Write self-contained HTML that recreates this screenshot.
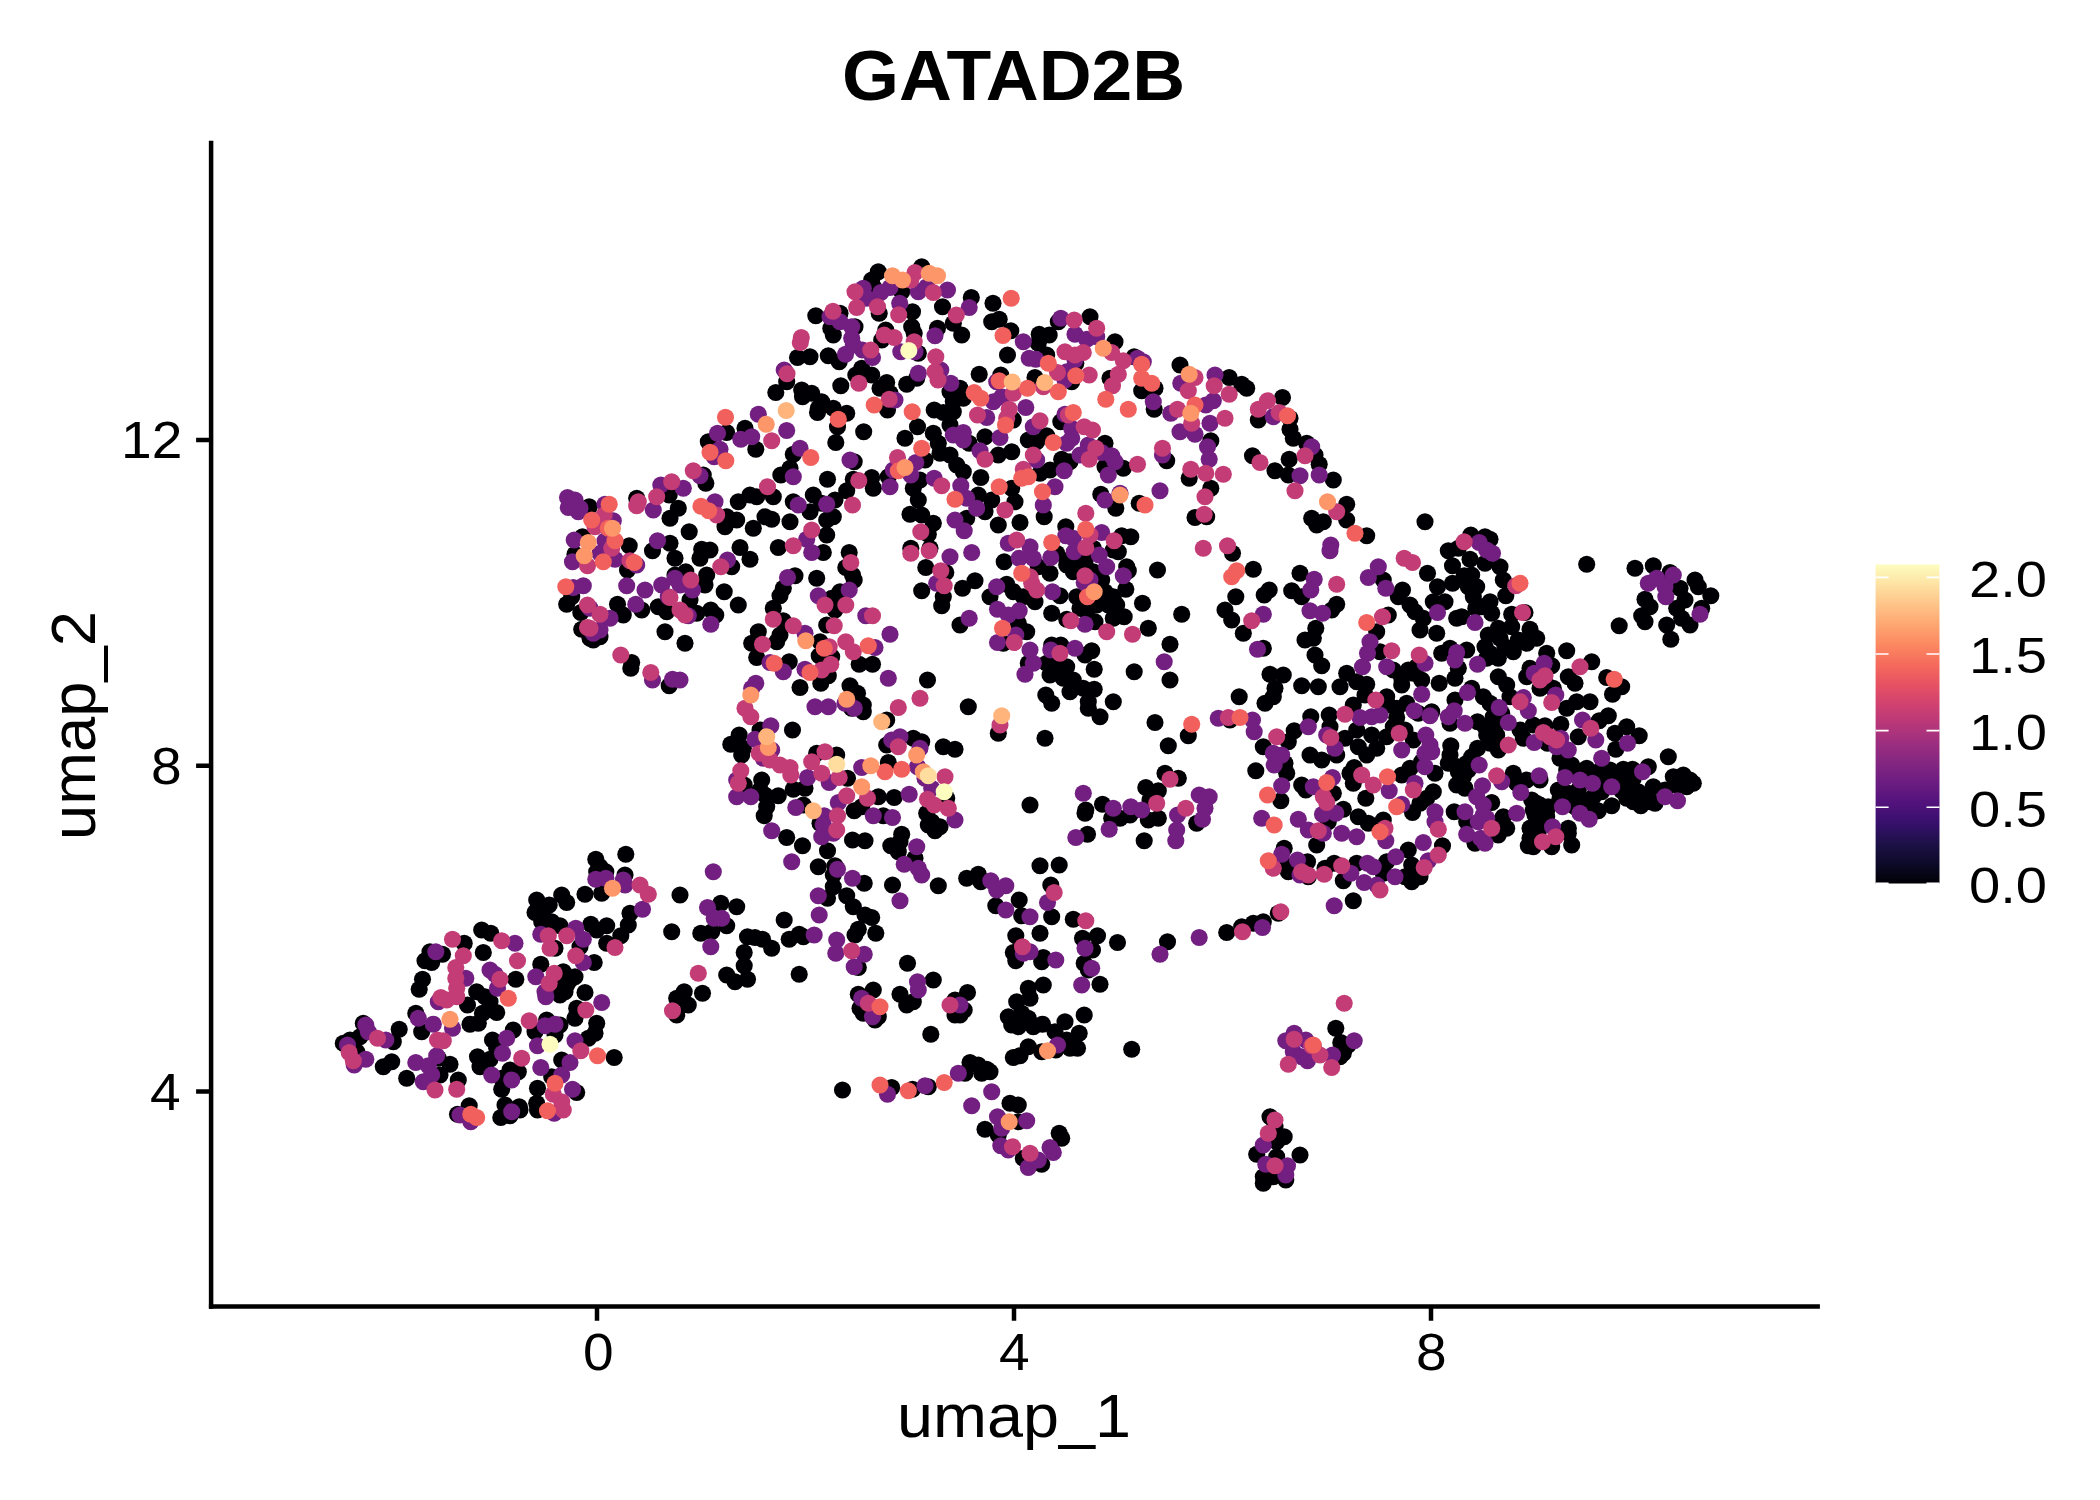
<!DOCTYPE html>
<html><head><meta charset="utf-8"><title>GATAD2B</title>
<style>
html,body{margin:0;padding:0;background:#fff;}
body{width:2100px;height:1500px;position:relative;overflow:hidden;font-family:"Liberation Sans",sans-serif;color:#000;}
.t{position:absolute;white-space:nowrap;line-height:1;transform-origin:0 0;}
svg{position:absolute;left:0;top:0;}
</style></head><body>
<svg width="2100" height="1500" viewBox="0 0 2100 1500">
<defs>
<linearGradient id="mg" x1="0" y1="1" x2="0" y2="0">
<stop offset="0" stop-color="#000004"/><stop offset="0.0625" stop-color="#0d0a29"/><stop offset="0.125" stop-color="#1d1147"/>
<stop offset="0.1875" stop-color="#36106b"/><stop offset="0.25" stop-color="#51127c"/><stop offset="0.3125" stop-color="#6a1c81"/>
<stop offset="0.375" stop-color="#822681"/><stop offset="0.4375" stop-color="#9c2e7f"/><stop offset="0.5" stop-color="#b73779"/>
<stop offset="0.5625" stop-color="#d1426f"/><stop offset="0.625" stop-color="#e75263"/><stop offset="0.6875" stop-color="#f56b5c"/>
<stop offset="0.75" stop-color="#fc8961"/><stop offset="0.8125" stop-color="#fea772"/><stop offset="0.875" stop-color="#fec488"/>
<stop offset="0.9375" stop-color="#fde2a3"/><stop offset="1" stop-color="#fcfdbf"/>
</linearGradient>
</defs>
<g fill="#000004">
<circle cx="921.7" cy="266.7" r="8.55"/><circle cx="878.3" cy="271.7" r="8.55"/><circle cx="871.7" cy="280.0" r="8.55"/><circle cx="873.3" cy="286.7" r="8.55"/><circle cx="901.7" cy="291.7" r="8.55"/><circle cx="971.3" cy="297.5" r="8.55"/><circle cx="993.0" cy="303.3" r="8.55"/><circle cx="879.2" cy="313.3" r="8.55"/><circle cx="912.5" cy="311.7" r="8.55"/><circle cx="942.5" cy="306.7" r="8.55"/><circle cx="815.8" cy="315.8" r="8.55"/><circle cx="840.0" cy="313.3" r="8.55"/><circle cx="855.0" cy="326.7" r="8.55"/><circle cx="830.8" cy="328.3" r="8.55"/><circle cx="833.3" cy="335.0" r="8.55"/><circle cx="911.7" cy="326.7" r="8.55"/><circle cx="914.2" cy="333.3" r="8.55"/><circle cx="885.8" cy="330.0" r="8.55"/><circle cx="881.7" cy="340.0" r="8.55"/><circle cx="937.5" cy="328.3" r="8.55"/><circle cx="953.3" cy="323.3" r="8.55"/><circle cx="961.7" cy="335.0" r="8.55"/><circle cx="991.7" cy="321.7" r="8.55"/><circle cx="999.2" cy="319.2" r="8.55"/><circle cx="1010.8" cy="330.8" r="8.55"/><circle cx="918.3" cy="353.3" r="8.55"/><circle cx="828.3" cy="355.8" r="8.55"/><circle cx="839.2" cy="361.7" r="8.55"/><circle cx="797.5" cy="357.5" r="8.55"/><circle cx="810.0" cy="356.7" r="8.55"/><circle cx="1007.5" cy="355.0" r="8.55"/><circle cx="786.7" cy="381.7" r="8.55"/><circle cx="861.7" cy="368.3" r="8.55"/><circle cx="855.8" cy="375.0" r="8.55"/><circle cx="871.7" cy="375.0" r="8.55"/><circle cx="840.8" cy="385.8" r="8.55"/><circle cx="886.7" cy="382.5" r="8.55"/><circle cx="880.0" cy="388.3" r="8.55"/><circle cx="916.7" cy="378.3" r="8.55"/><circle cx="906.7" cy="384.2" r="8.55"/><circle cx="979.2" cy="374.2" r="8.55"/><circle cx="1000.8" cy="375.0" r="8.55"/><circle cx="775.8" cy="392.5" r="8.55"/><circle cx="801.7" cy="390.0" r="8.55"/><circle cx="811.7" cy="393.3" r="8.55"/><circle cx="802.5" cy="396.7" r="8.55"/><circle cx="821.7" cy="401.7" r="8.55"/><circle cx="818.3" cy="408.3" r="8.55"/><circle cx="950.0" cy="391.7" r="8.55"/><circle cx="960.0" cy="388.3" r="8.55"/><circle cx="963.3" cy="398.3" r="8.55"/><circle cx="953.3" cy="401.7" r="8.55"/><circle cx="890.0" cy="393.3" r="8.55"/><circle cx="887.5" cy="410.0" r="8.55"/><circle cx="934.2" cy="410.0" r="8.55"/><circle cx="943.3" cy="412.5" r="8.55"/><circle cx="953.3" cy="411.7" r="8.55"/><circle cx="1013.3" cy="420.0" r="8.55"/><circle cx="846.7" cy="413.3" r="8.55"/><circle cx="833.3" cy="408.3" r="8.55"/><circle cx="817.5" cy="412.5" r="8.55"/><circle cx="837.5" cy="426.7" r="8.55"/><circle cx="745.0" cy="428.3" r="8.55"/><circle cx="726.7" cy="432.5" r="8.55"/><circle cx="708.3" cy="441.7" r="8.55"/><circle cx="755.8" cy="449.2" r="8.55"/><circle cx="863.7" cy="431.7" r="8.55"/><circle cx="835.8" cy="442.5" r="8.55"/><circle cx="917.5" cy="426.7" r="8.55"/><circle cx="933.3" cy="433.3" r="8.55"/><circle cx="905.0" cy="438.3" r="8.55"/><circle cx="950.0" cy="425.0" r="8.55"/><circle cx="969.2" cy="443.3" r="8.55"/><circle cx="985.0" cy="436.7" r="8.55"/><circle cx="1028.3" cy="440.0" r="8.55"/><circle cx="793.3" cy="454.2" r="8.55"/><circle cx="790.0" cy="468.3" r="8.55"/><circle cx="854.2" cy="461.7" r="8.55"/><circle cx="938.3" cy="443.3" r="8.55"/><circle cx="940.0" cy="453.3" r="8.55"/><circle cx="925.0" cy="460.0" r="8.55"/><circle cx="950.0" cy="455.0" r="8.55"/><circle cx="956.7" cy="465.0" r="8.55"/><circle cx="963.3" cy="471.7" r="8.55"/><circle cx="998.3" cy="455.0" r="8.55"/><circle cx="1011.7" cy="451.7" r="8.55"/><circle cx="703.3" cy="475.0" r="8.55"/><circle cx="705.8" cy="483.3" r="8.55"/><circle cx="780.8" cy="475.0" r="8.55"/><circle cx="827.5" cy="479.2" r="8.55"/><circle cx="871.7" cy="477.5" r="8.55"/><circle cx="853.3" cy="479.2" r="8.55"/><circle cx="846.7" cy="490.8" r="8.55"/><circle cx="873.3" cy="488.3" r="8.55"/><circle cx="888.3" cy="476.7" r="8.55"/><circle cx="920.0" cy="480.0" r="8.55"/><circle cx="913.3" cy="488.3" r="8.55"/><circle cx="980.8" cy="477.5" r="8.55"/><circle cx="1011.7" cy="488.3" r="8.55"/><circle cx="750.0" cy="495.0" r="8.55"/><circle cx="756.7" cy="496.7" r="8.55"/><circle cx="773.3" cy="496.7" r="8.55"/><circle cx="738.3" cy="501.7" r="8.55"/><circle cx="793.3" cy="501.7" r="8.55"/><circle cx="813.3" cy="495.0" r="8.55"/><circle cx="821.7" cy="503.3" r="8.55"/><circle cx="835.0" cy="500.0" r="8.55"/><circle cx="918.3" cy="500.0" r="8.55"/><circle cx="978.3" cy="495.0" r="8.55"/><circle cx="991.7" cy="500.0" r="8.55"/><circle cx="1015.0" cy="501.7" r="8.55"/><circle cx="1090.0" cy="316.7" r="8.55"/><circle cx="1058.3" cy="321.7" r="8.55"/><circle cx="1039.2" cy="334.2" r="8.55"/><circle cx="1049.2" cy="335.0" r="8.55"/><circle cx="1038.3" cy="343.3" r="8.55"/><circle cx="1115.0" cy="341.7" r="8.55"/><circle cx="1046.7" cy="355.0" r="8.55"/><circle cx="1075.8" cy="363.3" r="8.55"/><circle cx="1035.0" cy="377.5" r="8.55"/><circle cx="1071.7" cy="381.7" r="8.55"/><circle cx="1134.2" cy="356.7" r="8.55"/><circle cx="1110.0" cy="378.3" r="8.55"/><circle cx="1141.7" cy="390.8" r="8.55"/><circle cx="1155.0" cy="388.3" r="8.55"/><circle cx="1154.2" cy="409.2" r="8.55"/><circle cx="1180.0" cy="365.0" r="8.55"/><circle cx="1229.2" cy="377.5" r="8.55"/><circle cx="1241.7" cy="384.2" r="8.55"/><circle cx="1246.7" cy="388.3" r="8.55"/><circle cx="1210.8" cy="440.8" r="8.55"/><circle cx="1166.7" cy="460.8" r="8.55"/><circle cx="1189.2" cy="478.3" r="8.55"/><circle cx="1210.8" cy="488.3" r="8.55"/><circle cx="1282.5" cy="397.5" r="8.55"/><circle cx="1258.3" cy="420.0" r="8.55"/><circle cx="1290.0" cy="418.3" r="8.55"/><circle cx="1290.0" cy="429.2" r="8.55"/><circle cx="1293.3" cy="438.3" r="8.55"/><circle cx="1306.7" cy="443.3" r="8.55"/><circle cx="1315.0" cy="455.0" r="8.55"/><circle cx="1289.2" cy="459.2" r="8.55"/><circle cx="1252.5" cy="455.8" r="8.55"/><circle cx="1275.0" cy="470.8" r="8.55"/><circle cx="1288.3" cy="475.0" r="8.55"/><circle cx="1319.2" cy="464.2" r="8.55"/><circle cx="1333.3" cy="480.0" r="8.55"/><circle cx="1346.7" cy="504.2" r="8.55"/><circle cx="1060.8" cy="421.7" r="8.55"/><circle cx="1046.7" cy="435.8" r="8.55"/><circle cx="1036.7" cy="441.7" r="8.55"/><circle cx="1105.0" cy="443.3" r="8.55"/><circle cx="1061.7" cy="459.2" r="8.55"/><circle cx="1070.0" cy="461.7" r="8.55"/><circle cx="1105.0" cy="466.7" r="8.55"/><circle cx="1123.3" cy="468.3" r="8.55"/><circle cx="1050.0" cy="470.0" r="8.55"/><circle cx="1040.0" cy="473.3" r="8.55"/><circle cx="1100.8" cy="494.2" r="8.55"/><circle cx="1139.2" cy="503.3" r="8.55"/><circle cx="1425.0" cy="521.7" r="8.55"/><circle cx="1470.8" cy="535.0" r="8.55"/><circle cx="1485.0" cy="536.7" r="8.55"/><circle cx="1490.0" cy="539.2" r="8.55"/><circle cx="1448.3" cy="550.8" r="8.55"/><circle cx="1458.3" cy="548.3" r="8.55"/><circle cx="1452.5" cy="565.8" r="8.55"/><circle cx="1470.0" cy="559.2" r="8.55"/><circle cx="1485.0" cy="563.3" r="8.55"/><circle cx="1500.0" cy="566.7" r="8.55"/><circle cx="1427.5" cy="573.3" r="8.55"/><circle cx="1437.5" cy="586.7" r="8.55"/><circle cx="1452.5" cy="583.3" r="8.55"/><circle cx="1464.2" cy="575.8" r="8.55"/><circle cx="1471.7" cy="575.0" r="8.55"/><circle cx="1468.3" cy="586.7" r="8.55"/><circle cx="1476.7" cy="586.7" r="8.55"/><circle cx="1503.3" cy="580.0" r="8.55"/><circle cx="1505.8" cy="595.8" r="8.55"/><circle cx="1473.3" cy="596.7" r="8.55"/><circle cx="1481.7" cy="606.7" r="8.55"/><circle cx="1490.0" cy="601.7" r="8.55"/><circle cx="1475.8" cy="608.3" r="8.55"/><circle cx="1491.7" cy="613.3" r="8.55"/><circle cx="1383.3" cy="580.0" r="8.55"/><circle cx="1402.5" cy="590.0" r="8.55"/><circle cx="1398.3" cy="596.7" r="8.55"/><circle cx="1410.0" cy="605.0" r="8.55"/><circle cx="1415.0" cy="611.7" r="8.55"/><circle cx="1423.3" cy="618.3" r="8.55"/><circle cx="1433.3" cy="601.7" r="8.55"/><circle cx="1445.0" cy="601.7" r="8.55"/><circle cx="1456.7" cy="618.3" r="8.55"/><circle cx="1461.7" cy="616.7" r="8.55"/><circle cx="1388.3" cy="615.0" r="8.55"/><circle cx="1511.7" cy="614.2" r="8.55"/><circle cx="1525.0" cy="612.5" r="8.55"/><circle cx="1498.3" cy="628.3" r="8.55"/><circle cx="1511.7" cy="626.7" r="8.55"/><circle cx="1530.0" cy="629.2" r="8.55"/><circle cx="1420.0" cy="630.0" r="8.55"/><circle cx="1436.7" cy="633.3" r="8.55"/><circle cx="1586.7" cy="564.2" r="8.55"/><circle cx="1635.0" cy="568.3" r="8.55"/><circle cx="1653.3" cy="565.8" r="8.55"/><circle cx="1670.0" cy="572.5" r="8.55"/><circle cx="1695.0" cy="580.0" r="8.55"/><circle cx="1698.3" cy="586.7" r="8.55"/><circle cx="1710.8" cy="595.8" r="8.55"/><circle cx="1680.0" cy="588.3" r="8.55"/><circle cx="1685.0" cy="600.0" r="8.55"/><circle cx="1645.0" cy="599.2" r="8.55"/><circle cx="1650.0" cy="606.7" r="8.55"/><circle cx="1641.7" cy="615.8" r="8.55"/><circle cx="1645.0" cy="621.7" r="8.55"/><circle cx="1676.7" cy="608.3" r="8.55"/><circle cx="1681.7" cy="618.3" r="8.55"/><circle cx="1701.7" cy="608.3" r="8.55"/><circle cx="1619.2" cy="625.8" r="8.55"/><circle cx="1666.7" cy="625.0" r="8.55"/><circle cx="1690.0" cy="625.0" r="8.55"/><circle cx="589.2" cy="506.7" r="8.55"/><circle cx="582.5" cy="536.7" r="8.55"/><circle cx="575.0" cy="554.2" r="8.55"/><circle cx="629.2" cy="545.8" r="8.55"/><circle cx="627.5" cy="570.0" r="8.55"/><circle cx="571.7" cy="596.7" r="8.55"/><circle cx="566.7" cy="604.2" r="8.55"/><circle cx="580.8" cy="612.5" r="8.55"/><circle cx="617.5" cy="604.2" r="8.55"/><circle cx="623.3" cy="615.0" r="8.55"/><circle cx="641.7" cy="610.0" r="8.55"/><circle cx="581.7" cy="629.2" r="8.55"/><circle cx="590.0" cy="638.3" r="8.55"/><circle cx="600.0" cy="636.7" r="8.55"/><circle cx="593.3" cy="640.0" r="8.55"/><circle cx="658.3" cy="606.7" r="8.55"/><circle cx="666.7" cy="611.7" r="8.55"/><circle cx="675.0" cy="575.0" r="8.55"/><circle cx="665.0" cy="631.7" r="8.55"/><circle cx="631.7" cy="662.5" r="8.55"/><circle cx="630.8" cy="668.3" r="8.55"/><circle cx="669.2" cy="685.8" r="8.55"/><circle cx="636.7" cy="498.3" r="8.55"/><circle cx="669.2" cy="495.0" r="8.55"/><circle cx="670.0" cy="518.3" r="8.55"/><circle cx="678.3" cy="508.3" r="8.55"/><circle cx="670.0" cy="543.3" r="8.55"/><circle cx="652.5" cy="550.8" r="8.55"/><circle cx="675.0" cy="558.3" r="8.55"/><circle cx="726.7" cy="516.7" r="8.55"/><circle cx="736.7" cy="520.0" r="8.55"/><circle cx="725.0" cy="526.7" r="8.55"/><circle cx="765.0" cy="516.7" r="8.55"/><circle cx="771.7" cy="519.2" r="8.55"/><circle cx="753.3" cy="528.3" r="8.55"/><circle cx="790.0" cy="521.7" r="8.55"/><circle cx="810.0" cy="511.7" r="8.55"/><circle cx="833.3" cy="516.7" r="8.55"/><circle cx="826.7" cy="520.0" r="8.55"/><circle cx="910.0" cy="514.2" r="8.55"/><circle cx="921.7" cy="515.0" r="8.55"/><circle cx="933.3" cy="523.3" r="8.55"/><circle cx="966.7" cy="518.3" r="8.55"/><circle cx="985.0" cy="511.7" r="8.55"/><circle cx="998.3" cy="525.0" r="8.55"/><circle cx="1020.0" cy="522.5" r="8.55"/><circle cx="689.2" cy="531.7" r="8.55"/><circle cx="826.7" cy="535.0" r="8.55"/><circle cx="778.3" cy="547.5" r="8.55"/><circle cx="823.3" cy="552.5" r="8.55"/><circle cx="928.3" cy="534.2" r="8.55"/><circle cx="910.8" cy="548.3" r="8.55"/><circle cx="930.0" cy="548.3" r="8.55"/><circle cx="1004.2" cy="561.7" r="8.55"/><circle cx="701.7" cy="549.2" r="8.55"/><circle cx="710.0" cy="550.0" r="8.55"/><circle cx="700.0" cy="558.3" r="8.55"/><circle cx="740.0" cy="547.5" r="8.55"/><circle cx="750.0" cy="559.2" r="8.55"/><circle cx="731.7" cy="566.7" r="8.55"/><circle cx="849.2" cy="552.5" r="8.55"/><circle cx="845.8" cy="567.5" r="8.55"/><circle cx="852.5" cy="575.0" r="8.55"/><circle cx="854.2" cy="580.0" r="8.55"/><circle cx="685.8" cy="571.7" r="8.55"/><circle cx="706.7" cy="575.0" r="8.55"/><circle cx="705.0" cy="585.0" r="8.55"/><circle cx="724.2" cy="591.7" r="8.55"/><circle cx="795.0" cy="575.8" r="8.55"/><circle cx="816.7" cy="578.3" r="8.55"/><circle cx="783.3" cy="588.3" r="8.55"/><circle cx="780.0" cy="595.8" r="8.55"/><circle cx="773.3" cy="608.3" r="8.55"/><circle cx="840.0" cy="591.7" r="8.55"/><circle cx="831.7" cy="598.3" r="8.55"/><circle cx="835.0" cy="610.0" r="8.55"/><circle cx="690.0" cy="600.0" r="8.55"/><circle cx="738.3" cy="605.0" r="8.55"/><circle cx="696.7" cy="613.3" r="8.55"/><circle cx="710.8" cy="610.0" r="8.55"/><circle cx="715.8" cy="615.0" r="8.55"/><circle cx="685.0" cy="643.3" r="8.55"/><circle cx="783.3" cy="620.8" r="8.55"/><circle cx="758.3" cy="631.7" r="8.55"/><circle cx="751.7" cy="643.3" r="8.55"/><circle cx="780.0" cy="635.0" r="8.55"/><circle cx="776.7" cy="641.7" r="8.55"/><circle cx="826.7" cy="625.0" r="8.55"/><circle cx="820.0" cy="641.7" r="8.55"/><circle cx="819.2" cy="655.8" r="8.55"/><circle cx="831.7" cy="656.7" r="8.55"/><circle cx="756.7" cy="657.5" r="8.55"/><circle cx="789.2" cy="661.7" r="8.55"/><circle cx="828.3" cy="675.8" r="8.55"/><circle cx="820.8" cy="683.3" r="8.55"/><circle cx="859.2" cy="664.2" r="8.55"/><circle cx="872.5" cy="664.2" r="8.55"/><circle cx="927.5" cy="680.0" r="8.55"/><circle cx="800.0" cy="687.5" r="8.55"/><circle cx="850.0" cy="685.8" r="8.55"/><circle cx="857.5" cy="693.3" r="8.55"/><circle cx="863.3" cy="705.0" r="8.55"/><circle cx="851.7" cy="708.3" r="8.55"/><circle cx="863.3" cy="711.7" r="8.55"/><circle cx="968.3" cy="706.7" r="8.55"/><circle cx="886.7" cy="720.0" r="8.55"/><circle cx="998.3" cy="733.3" r="8.55"/><circle cx="760.0" cy="730.0" r="8.55"/><circle cx="792.5" cy="730.0" r="8.55"/><circle cx="739.2" cy="735.0" r="8.55"/><circle cx="730.8" cy="744.2" r="8.55"/><circle cx="743.3" cy="748.3" r="8.55"/><circle cx="913.3" cy="738.3" r="8.55"/><circle cx="921.7" cy="741.7" r="8.55"/><circle cx="886.7" cy="745.0" r="8.55"/><circle cx="943.3" cy="746.7" r="8.55"/><circle cx="955.0" cy="749.2" r="8.55"/><circle cx="816.7" cy="753.3" r="8.55"/><circle cx="836.7" cy="755.0" r="8.55"/><circle cx="975.0" cy="580.8" r="8.55"/><circle cx="962.5" cy="588.3" r="8.55"/><circle cx="921.7" cy="590.8" r="8.55"/><circle cx="925.8" cy="567.5" r="8.55"/><circle cx="945.8" cy="572.5" r="8.55"/><circle cx="943.3" cy="596.7" r="8.55"/><circle cx="941.7" cy="605.8" r="8.55"/><circle cx="1006.7" cy="584.2" r="8.55"/><circle cx="990.0" cy="596.7" r="8.55"/><circle cx="1013.3" cy="591.7" r="8.55"/><circle cx="1023.3" cy="596.7" r="8.55"/><circle cx="960.0" cy="625.0" r="8.55"/><circle cx="1018.3" cy="623.3" r="8.55"/><circle cx="1026.7" cy="631.7" r="8.55"/><circle cx="1003.3" cy="643.3" r="8.55"/><circle cx="1028.3" cy="663.3" r="8.55"/><circle cx="1044.2" cy="516.7" r="8.55"/><circle cx="1115.8" cy="508.3" r="8.55"/><circle cx="1065.8" cy="526.7" r="8.55"/><circle cx="1121.7" cy="535.8" r="8.55"/><circle cx="1130.8" cy="536.7" r="8.55"/><circle cx="1056.7" cy="553.3" r="8.55"/><circle cx="1113.3" cy="550.0" r="8.55"/><circle cx="1118.3" cy="551.7" r="8.55"/><circle cx="1093.3" cy="548.3" r="8.55"/><circle cx="1066.7" cy="565.0" r="8.55"/><circle cx="1080.0" cy="566.7" r="8.55"/><circle cx="1073.3" cy="571.7" r="8.55"/><circle cx="1126.7" cy="566.7" r="8.55"/><circle cx="1128.3" cy="570.8" r="8.55"/><circle cx="1157.5" cy="570.0" r="8.55"/><circle cx="1050.0" cy="573.3" r="8.55"/><circle cx="1038.3" cy="566.7" r="8.55"/><circle cx="1101.7" cy="580.0" r="8.55"/><circle cx="1105.0" cy="591.7" r="8.55"/><circle cx="1113.3" cy="596.7" r="8.55"/><circle cx="1096.7" cy="605.0" r="8.55"/><circle cx="1081.7" cy="601.7" r="8.55"/><circle cx="1108.3" cy="605.0" r="8.55"/><circle cx="1125.8" cy="589.2" r="8.55"/><circle cx="1060.0" cy="595.8" r="8.55"/><circle cx="1035.0" cy="601.7" r="8.55"/><circle cx="1142.5" cy="603.3" r="8.55"/><circle cx="1051.7" cy="613.3" r="8.55"/><circle cx="1066.7" cy="619.2" r="8.55"/><circle cx="1095.0" cy="621.7" r="8.55"/><circle cx="1113.3" cy="618.3" r="8.55"/><circle cx="1124.2" cy="616.7" r="8.55"/><circle cx="1086.7" cy="611.7" r="8.55"/><circle cx="1080.0" cy="608.3" r="8.55"/><circle cx="1181.7" cy="614.2" r="8.55"/><circle cx="1148.3" cy="628.3" r="8.55"/><circle cx="1170.0" cy="644.2" r="8.55"/><circle cx="1170.0" cy="680.0" r="8.55"/><circle cx="1134.2" cy="671.7" r="8.55"/><circle cx="1051.7" cy="645.0" r="8.55"/><circle cx="1060.8" cy="645.0" r="8.55"/><circle cx="1091.7" cy="650.8" r="8.55"/><circle cx="1085.0" cy="655.0" r="8.55"/><circle cx="1046.7" cy="663.3" r="8.55"/><circle cx="1055.0" cy="665.0" r="8.55"/><circle cx="1066.7" cy="666.7" r="8.55"/><circle cx="1050.0" cy="675.0" r="8.55"/><circle cx="1063.3" cy="678.3" r="8.55"/><circle cx="1094.2" cy="669.2" r="8.55"/><circle cx="1073.3" cy="680.0" r="8.55"/><circle cx="1070.0" cy="691.7" r="8.55"/><circle cx="1083.3" cy="688.3" r="8.55"/><circle cx="1094.2" cy="689.2" r="8.55"/><circle cx="1045.8" cy="695.0" r="8.55"/><circle cx="1051.7" cy="703.3" r="8.55"/><circle cx="1088.3" cy="701.7" r="8.55"/><circle cx="1088.3" cy="708.3" r="8.55"/><circle cx="1100.0" cy="716.7" r="8.55"/><circle cx="1113.3" cy="701.7" r="8.55"/><circle cx="1045.0" cy="738.3" r="8.55"/><circle cx="1155.0" cy="722.5" r="8.55"/><circle cx="1188.3" cy="735.8" r="8.55"/><circle cx="1168.3" cy="745.8" r="8.55"/><circle cx="1195.0" cy="517.5" r="8.55"/><circle cx="1206.7" cy="516.7" r="8.55"/><circle cx="1232.5" cy="553.3" r="8.55"/><circle cx="1253.3" cy="569.2" r="8.55"/><circle cx="1235.8" cy="596.7" r="8.55"/><circle cx="1269.2" cy="590.0" r="8.55"/><circle cx="1264.2" cy="595.0" r="8.55"/><circle cx="1225.0" cy="610.0" r="8.55"/><circle cx="1231.7" cy="620.0" r="8.55"/><circle cx="1243.3" cy="633.3" r="8.55"/><circle cx="1263.3" cy="648.3" r="8.55"/><circle cx="1239.2" cy="696.7" r="8.55"/><circle cx="1270.0" cy="674.2" r="8.55"/><circle cx="1283.3" cy="675.0" r="8.55"/><circle cx="1275.0" cy="688.3" r="8.55"/><circle cx="1273.3" cy="696.7" r="8.55"/><circle cx="1265.0" cy="703.3" r="8.55"/><circle cx="1230.0" cy="720.0" r="8.55"/><circle cx="1263.3" cy="746.7" r="8.55"/><circle cx="1294.2" cy="730.8" r="8.55"/><circle cx="1288.3" cy="741.7" r="8.55"/><circle cx="1311.7" cy="518.3" r="8.55"/><circle cx="1323.3" cy="521.7" r="8.55"/><circle cx="1316.7" cy="525.0" r="8.55"/><circle cx="1346.7" cy="520.0" r="8.55"/><circle cx="1366.7" cy="535.8" r="8.55"/><circle cx="1300.0" cy="573.3" r="8.55"/><circle cx="1291.7" cy="590.8" r="8.55"/><circle cx="1301.7" cy="596.7" r="8.55"/><circle cx="1336.7" cy="604.2" r="8.55"/><circle cx="1331.7" cy="610.0" r="8.55"/><circle cx="1315.8" cy="628.3" r="8.55"/><circle cx="1305.0" cy="640.0" r="8.55"/><circle cx="1313.3" cy="638.3" r="8.55"/><circle cx="1315.0" cy="655.0" r="8.55"/><circle cx="1321.7" cy="665.8" r="8.55"/><circle cx="1301.7" cy="685.8" r="8.55"/><circle cx="1318.3" cy="686.7" r="8.55"/><circle cx="1310.8" cy="716.7" r="8.55"/><circle cx="1329.2" cy="715.0" r="8.55"/><circle cx="1330.0" cy="726.7" r="8.55"/><circle cx="1310.0" cy="755.0" r="8.55"/><circle cx="1376.7" cy="631.7" r="8.55"/><circle cx="1346.7" cy="673.3" r="8.55"/><circle cx="1340.0" cy="686.7" r="8.55"/><circle cx="1356.7" cy="681.7" r="8.55"/><circle cx="1366.7" cy="684.2" r="8.55"/><circle cx="1365.0" cy="695.0" r="8.55"/><circle cx="1353.3" cy="705.0" r="8.55"/><circle cx="1356.7" cy="730.0" r="8.55"/><circle cx="1371.7" cy="735.0" r="8.55"/><circle cx="1345.0" cy="738.3" r="8.55"/><circle cx="1358.3" cy="746.7" r="8.55"/><circle cx="1376.7" cy="748.3" r="8.55"/><circle cx="1380.0" cy="651.7" r="8.55"/><circle cx="1096.7" cy="585.0" r="8.55"/><circle cx="1108.3" cy="598.3" r="8.55"/><circle cx="1088.3" cy="608.3" r="8.55"/><circle cx="1076.7" cy="596.7" r="8.55"/><circle cx="1071.7" cy="558.3" r="8.55"/><circle cx="1085.0" cy="561.7" r="8.55"/><circle cx="1100.0" cy="601.7" r="8.55"/><circle cx="1116.7" cy="605.0" r="8.55"/><circle cx="1093.3" cy="571.7" r="8.55"/><circle cx="1488.3" cy="635.0" r="8.55"/><circle cx="1500.0" cy="638.3" r="8.55"/><circle cx="1518.3" cy="640.0" r="8.55"/><circle cx="1536.7" cy="638.3" r="8.55"/><circle cx="1670.8" cy="639.2" r="8.55"/><circle cx="1441.7" cy="653.3" r="8.55"/><circle cx="1450.0" cy="648.3" r="8.55"/><circle cx="1466.7" cy="650.0" r="8.55"/><circle cx="1485.0" cy="646.7" r="8.55"/><circle cx="1490.0" cy="653.3" r="8.55"/><circle cx="1505.0" cy="646.7" r="8.55"/><circle cx="1513.3" cy="651.7" r="8.55"/><circle cx="1546.7" cy="653.3" r="8.55"/><circle cx="1566.7" cy="650.8" r="8.55"/><circle cx="1393.3" cy="670.0" r="8.55"/><circle cx="1401.7" cy="678.3" r="8.55"/><circle cx="1413.3" cy="673.3" r="8.55"/><circle cx="1416.7" cy="666.7" r="8.55"/><circle cx="1458.3" cy="668.3" r="8.55"/><circle cx="1455.0" cy="678.3" r="8.55"/><circle cx="1498.3" cy="658.3" r="8.55"/><circle cx="1486.7" cy="658.3" r="8.55"/><circle cx="1591.7" cy="661.7" r="8.55"/><circle cx="1530.0" cy="668.3" r="8.55"/><circle cx="1551.7" cy="665.8" r="8.55"/><circle cx="1498.3" cy="676.7" r="8.55"/><circle cx="1506.7" cy="685.0" r="8.55"/><circle cx="1439.2" cy="683.3" r="8.55"/><circle cx="1401.7" cy="685.0" r="8.55"/><circle cx="1510.0" cy="696.7" r="8.55"/><circle cx="1526.7" cy="676.7" r="8.55"/><circle cx="1568.3" cy="676.7" r="8.55"/><circle cx="1575.0" cy="683.3" r="8.55"/><circle cx="1606.7" cy="677.5" r="8.55"/><circle cx="1621.7" cy="686.7" r="8.55"/><circle cx="1612.5" cy="694.2" r="8.55"/><circle cx="1540.0" cy="688.3" r="8.55"/><circle cx="1546.7" cy="685.0" r="8.55"/><circle cx="1553.3" cy="688.3" r="8.55"/><circle cx="1386.7" cy="696.7" r="8.55"/><circle cx="1388.3" cy="705.0" r="8.55"/><circle cx="1406.7" cy="703.3" r="8.55"/><circle cx="1455.0" cy="700.0" r="8.55"/><circle cx="1471.7" cy="688.3" r="8.55"/><circle cx="1483.3" cy="696.7" r="8.55"/><circle cx="1490.0" cy="703.3" r="8.55"/><circle cx="1501.7" cy="713.3" r="8.55"/><circle cx="1576.7" cy="701.7" r="8.55"/><circle cx="1590.0" cy="701.7" r="8.55"/><circle cx="1566.7" cy="708.3" r="8.55"/><circle cx="1396.7" cy="717.5" r="8.55"/><circle cx="1418.3" cy="713.3" r="8.55"/><circle cx="1431.7" cy="711.7" r="8.55"/><circle cx="1450.0" cy="723.3" r="8.55"/><circle cx="1477.5" cy="721.7" r="8.55"/><circle cx="1485.0" cy="726.7" r="8.55"/><circle cx="1493.3" cy="716.7" r="8.55"/><circle cx="1608.3" cy="715.8" r="8.55"/><circle cx="1599.2" cy="720.8" r="8.55"/><circle cx="1533.3" cy="725.0" r="8.55"/><circle cx="1545.0" cy="725.8" r="8.55"/><circle cx="1560.8" cy="724.2" r="8.55"/><circle cx="1626.7" cy="726.7" r="8.55"/><circle cx="1615.0" cy="733.3" r="8.55"/><circle cx="1639.2" cy="735.8" r="8.55"/><circle cx="1520.0" cy="730.0" r="8.55"/><circle cx="1523.3" cy="738.3" r="8.55"/><circle cx="1386.7" cy="736.7" r="8.55"/><circle cx="1405.0" cy="730.0" r="8.55"/><circle cx="1413.3" cy="740.0" r="8.55"/><circle cx="1486.7" cy="735.0" r="8.55"/><circle cx="1496.7" cy="735.0" r="8.55"/><circle cx="1490.0" cy="743.3" r="8.55"/><circle cx="1578.3" cy="736.7" r="8.55"/><circle cx="1615.8" cy="749.2" r="8.55"/><circle cx="1547.5" cy="743.3" r="8.55"/><circle cx="1450.8" cy="745.8" r="8.55"/><circle cx="1450.0" cy="755.0" r="8.55"/><circle cx="1477.5" cy="748.3" r="8.55"/><circle cx="1471.7" cy="756.7" r="8.55"/><circle cx="1466.7" cy="763.3" r="8.55"/><circle cx="1498.3" cy="750.0" r="8.55"/><circle cx="1668.3" cy="756.7" r="8.55"/><circle cx="1560.0" cy="758.3" r="8.55"/><circle cx="1571.7" cy="765.0" r="8.55"/><circle cx="1586.7" cy="768.3" r="8.55"/><circle cx="1598.3" cy="771.7" r="8.55"/><circle cx="1610.0" cy="770.0" r="8.55"/><circle cx="1623.3" cy="769.2" r="8.55"/><circle cx="1632.5" cy="769.2" r="8.55"/><circle cx="1648.3" cy="766.7" r="8.55"/><circle cx="1410.0" cy="768.3" r="8.55"/><circle cx="1401.7" cy="775.0" r="8.55"/><circle cx="1435.0" cy="773.3" r="8.55"/><circle cx="1421.7" cy="761.7" r="8.55"/><circle cx="1448.3" cy="763.3" r="8.55"/><circle cx="1458.3" cy="771.7" r="8.55"/><circle cx="1460.0" cy="781.7" r="8.55"/><circle cx="1465.0" cy="788.3" r="8.55"/><circle cx="1513.3" cy="773.3" r="8.55"/><circle cx="1526.7" cy="780.0" r="8.55"/><circle cx="1516.7" cy="783.3" r="8.55"/><circle cx="1540.0" cy="780.0" r="8.55"/><circle cx="1683.3" cy="775.0" r="8.55"/><circle cx="1690.0" cy="780.0" r="8.55"/><circle cx="1682.5" cy="785.0" r="8.55"/><circle cx="1693.3" cy="783.3" r="8.55"/><circle cx="1633.3" cy="778.3" r="8.55"/><circle cx="1653.3" cy="786.7" r="8.55"/><circle cx="1558.3" cy="790.0" r="8.55"/><circle cx="1568.3" cy="793.3" r="8.55"/><circle cx="1578.3" cy="790.0" r="8.55"/><circle cx="1601.7" cy="791.7" r="8.55"/><circle cx="1621.7" cy="790.8" r="8.55"/><circle cx="1665.0" cy="790.0" r="8.55"/><circle cx="1640.0" cy="798.3" r="8.55"/><circle cx="1650.0" cy="801.7" r="8.55"/><circle cx="1640.8" cy="805.8" r="8.55"/><circle cx="1611.7" cy="805.8" r="8.55"/><circle cx="1531.7" cy="800.0" r="8.55"/><circle cx="1540.0" cy="805.0" r="8.55"/><circle cx="1548.3" cy="806.7" r="8.55"/><circle cx="1588.3" cy="805.0" r="8.55"/><circle cx="1598.3" cy="810.8" r="8.55"/><circle cx="1575.0" cy="806.7" r="8.55"/><circle cx="1433.3" cy="791.7" r="8.55"/><circle cx="1426.7" cy="798.3" r="8.55"/><circle cx="1420.0" cy="803.3" r="8.55"/><circle cx="1412.5" cy="812.5" r="8.55"/><circle cx="1454.2" cy="811.7" r="8.55"/><circle cx="1491.7" cy="802.5" r="8.55"/><circle cx="1500.0" cy="821.7" r="8.55"/><circle cx="1506.7" cy="828.3" r="8.55"/><circle cx="1498.3" cy="835.0" r="8.55"/><circle cx="1535.0" cy="815.0" r="8.55"/><circle cx="1538.3" cy="821.7" r="8.55"/><circle cx="1530.0" cy="828.3" r="8.55"/><circle cx="1546.7" cy="816.7" r="8.55"/><circle cx="1568.3" cy="828.3" r="8.55"/><circle cx="1466.7" cy="821.7" r="8.55"/><circle cx="1383.3" cy="820.0" r="8.55"/><circle cx="1528.3" cy="845.8" r="8.55"/><circle cx="1533.3" cy="846.7" r="8.55"/><circle cx="1551.7" cy="846.7" r="8.55"/><circle cx="1568.3" cy="833.3" r="8.55"/><circle cx="1571.7" cy="845.0" r="8.55"/><circle cx="1442.5" cy="845.8" r="8.55"/><circle cx="1408.3" cy="850.0" r="8.55"/><circle cx="1475.0" cy="843.3" r="8.55"/><circle cx="1386.7" cy="861.7" r="8.55"/><circle cx="1411.7" cy="865.0" r="8.55"/><circle cx="1383.3" cy="873.3" r="8.55"/><circle cx="1405.0" cy="876.7" r="8.55"/><circle cx="1420.0" cy="876.7" r="8.55"/><circle cx="1458.3" cy="766.7" r="8.55"/><circle cx="1463.3" cy="776.7" r="8.55"/><circle cx="1456.7" cy="785.0" r="8.55"/><circle cx="1468.3" cy="770.0" r="8.55"/><circle cx="1566.7" cy="770.0" r="8.55"/><circle cx="1580.0" cy="773.3" r="8.55"/><circle cx="1593.3" cy="776.7" r="8.55"/><circle cx="1605.0" cy="780.0" r="8.55"/><circle cx="1618.3" cy="780.0" r="8.55"/><circle cx="1630.0" cy="785.0" r="8.55"/><circle cx="1593.3" cy="796.7" r="8.55"/><circle cx="1581.7" cy="800.0" r="8.55"/><circle cx="1568.3" cy="800.0" r="8.55"/><circle cx="1560.0" cy="798.3" r="8.55"/><circle cx="1626.7" cy="798.3" r="8.55"/><circle cx="1638.3" cy="791.7" r="8.55"/><circle cx="1646.7" cy="795.0" r="8.55"/><circle cx="1655.0" cy="803.3" r="8.55"/><circle cx="1633.3" cy="801.7" r="8.55"/><circle cx="1673.3" cy="776.7" r="8.55"/><circle cx="1680.0" cy="780.0" r="8.55"/><circle cx="1686.7" cy="786.7" r="8.55"/><circle cx="1676.7" cy="785.0" r="8.55"/><circle cx="1533.3" cy="810.0" r="8.55"/><circle cx="1540.0" cy="813.3" r="8.55"/><circle cx="1546.7" cy="810.0" r="8.55"/><circle cx="1536.7" cy="803.3" r="8.55"/><circle cx="1495.0" cy="726.7" r="8.55"/><circle cx="1421.7" cy="680.0" r="8.55"/><circle cx="1408.3" cy="670.0" r="8.55"/><circle cx="1526.7" cy="643.3" r="8.55"/><circle cx="1396.7" cy="708.3" r="8.55"/><circle cx="1393.3" cy="726.7" r="8.55"/><circle cx="1530.0" cy="838.3" r="8.55"/><circle cx="1538.3" cy="831.7" r="8.55"/><circle cx="1496.7" cy="826.7" r="8.55"/><circle cx="1503.3" cy="816.7" r="8.55"/><circle cx="625.8" cy="854.2" r="8.55"/><circle cx="595.8" cy="859.2" r="8.55"/><circle cx="600.0" cy="866.7" r="8.55"/><circle cx="605.8" cy="871.7" r="8.55"/><circle cx="596.7" cy="871.7" r="8.55"/><circle cx="625.0" cy="875.0" r="8.55"/><circle cx="585.0" cy="894.2" r="8.55"/><circle cx="601.7" cy="893.3" r="8.55"/><circle cx="630.0" cy="913.3" r="8.55"/><circle cx="628.3" cy="925.0" r="8.55"/><circle cx="561.7" cy="895.0" r="8.55"/><circle cx="566.7" cy="902.5" r="8.55"/><circle cx="536.7" cy="900.0" r="8.55"/><circle cx="549.2" cy="905.0" r="8.55"/><circle cx="535.0" cy="912.5" r="8.55"/><circle cx="543.3" cy="916.7" r="8.55"/><circle cx="551.7" cy="921.7" r="8.55"/><circle cx="560.0" cy="925.8" r="8.55"/><circle cx="590.8" cy="924.2" r="8.55"/><circle cx="606.7" cy="925.8" r="8.55"/><circle cx="596.7" cy="930.0" r="8.55"/><circle cx="620.8" cy="935.8" r="8.55"/><circle cx="606.7" cy="943.3" r="8.55"/><circle cx="671.7" cy="931.7" r="8.55"/><circle cx="555.0" cy="948.3" r="8.55"/><circle cx="594.2" cy="962.5" r="8.55"/><circle cx="580.0" cy="946.7" r="8.55"/><circle cx="540.8" cy="964.2" r="8.55"/><circle cx="563.3" cy="971.7" r="8.55"/><circle cx="575.0" cy="976.7" r="8.55"/><circle cx="566.7" cy="985.0" r="8.55"/><circle cx="560.0" cy="995.0" r="8.55"/><circle cx="585.0" cy="992.5" r="8.55"/><circle cx="576.7" cy="1008.3" r="8.55"/><circle cx="575.0" cy="1018.3" r="8.55"/><circle cx="596.7" cy="1023.3" r="8.55"/><circle cx="595.0" cy="1033.3" r="8.55"/><circle cx="588.3" cy="1038.3" r="8.55"/><circle cx="614.2" cy="1057.5" r="8.55"/><circle cx="546.7" cy="1020.0" r="8.55"/><circle cx="560.0" cy="1025.0" r="8.55"/><circle cx="535.0" cy="1031.7" r="8.55"/><circle cx="555.0" cy="1035.0" r="8.55"/><circle cx="561.7" cy="1060.0" r="8.55"/><circle cx="551.7" cy="1076.7" r="8.55"/><circle cx="481.7" cy="930.0" r="8.55"/><circle cx="490.8" cy="933.3" r="8.55"/><circle cx="464.2" cy="943.3" r="8.55"/><circle cx="430.0" cy="951.7" r="8.55"/><circle cx="442.5" cy="954.2" r="8.55"/><circle cx="425.0" cy="960.8" r="8.55"/><circle cx="431.7" cy="962.5" r="8.55"/><circle cx="483.3" cy="952.5" r="8.55"/><circle cx="515.8" cy="979.2" r="8.55"/><circle cx="422.5" cy="979.2" r="8.55"/><circle cx="419.2" cy="989.2" r="8.55"/><circle cx="476.7" cy="991.7" r="8.55"/><circle cx="485.0" cy="996.7" r="8.55"/><circle cx="490.0" cy="1001.7" r="8.55"/><circle cx="467.5" cy="1005.0" r="8.55"/><circle cx="482.5" cy="1013.3" r="8.55"/><circle cx="496.7" cy="1012.5" r="8.55"/><circle cx="470.0" cy="1024.2" r="8.55"/><circle cx="478.3" cy="1023.3" r="8.55"/><circle cx="415.8" cy="1013.3" r="8.55"/><circle cx="421.7" cy="1031.7" r="8.55"/><circle cx="513.3" cy="1030.0" r="8.55"/><circle cx="492.5" cy="1040.0" r="8.55"/><circle cx="496.7" cy="1048.3" r="8.55"/><circle cx="477.5" cy="1056.7" r="8.55"/><circle cx="490.0" cy="1059.2" r="8.55"/><circle cx="480.0" cy="1066.7" r="8.55"/><circle cx="510.0" cy="1070.0" r="8.55"/><circle cx="518.3" cy="1071.7" r="8.55"/><circle cx="501.7" cy="1078.3" r="8.55"/><circle cx="438.3" cy="1058.3" r="8.55"/><circle cx="450.0" cy="1064.2" r="8.55"/><circle cx="440.0" cy="1075.0" r="8.55"/><circle cx="406.7" cy="1078.3" r="8.55"/><circle cx="458.3" cy="1080.0" r="8.55"/><circle cx="363.3" cy="1023.3" r="8.55"/><circle cx="399.2" cy="1029.2" r="8.55"/><circle cx="360.0" cy="1036.7" r="8.55"/><circle cx="350.0" cy="1040.0" r="8.55"/><circle cx="393.3" cy="1041.7" r="8.55"/><circle cx="343.3" cy="1043.3" r="8.55"/><circle cx="356.7" cy="1051.7" r="8.55"/><circle cx="383.3" cy="1066.7" r="8.55"/><circle cx="391.7" cy="1061.7" r="8.55"/><circle cx="680.0" cy="895.0" r="8.55"/><circle cx="676.7" cy="998.3" r="8.55"/><circle cx="676.7" cy="1015.0" r="8.55"/><circle cx="565.0" cy="991.7" r="8.55"/><circle cx="570.0" cy="980.0" r="8.55"/><circle cx="558.3" cy="983.3" r="8.55"/><circle cx="541.7" cy="921.7" r="8.55"/><circle cx="538.3" cy="906.7" r="8.55"/><circle cx="741.7" cy="755.0" r="8.55"/><circle cx="744.2" cy="785.0" r="8.55"/><circle cx="761.7" cy="780.0" r="8.55"/><circle cx="847.5" cy="778.3" r="8.55"/><circle cx="888.3" cy="762.5" r="8.55"/><circle cx="878.3" cy="796.7" r="8.55"/><circle cx="894.2" cy="797.5" r="8.55"/><circle cx="946.7" cy="798.3" r="8.55"/><circle cx="760.0" cy="790.0" r="8.55"/><circle cx="765.0" cy="795.0" r="8.55"/><circle cx="778.3" cy="795.8" r="8.55"/><circle cx="793.3" cy="789.2" r="8.55"/><circle cx="805.0" cy="788.3" r="8.55"/><circle cx="766.7" cy="806.7" r="8.55"/><circle cx="764.2" cy="815.8" r="8.55"/><circle cx="803.3" cy="805.0" r="8.55"/><circle cx="820.0" cy="823.3" r="8.55"/><circle cx="854.2" cy="810.8" r="8.55"/><circle cx="861.7" cy="806.7" r="8.55"/><circle cx="883.3" cy="815.8" r="8.55"/><circle cx="926.7" cy="813.3" r="8.55"/><circle cx="931.7" cy="821.7" r="8.55"/><circle cx="940.0" cy="826.7" r="8.55"/><circle cx="935.0" cy="830.8" r="8.55"/><circle cx="928.3" cy="825.0" r="8.55"/><circle cx="786.7" cy="837.5" r="8.55"/><circle cx="802.5" cy="845.8" r="8.55"/><circle cx="827.5" cy="850.8" r="8.55"/><circle cx="852.5" cy="840.0" r="8.55"/><circle cx="865.0" cy="840.8" r="8.55"/><circle cx="901.7" cy="834.2" r="8.55"/><circle cx="890.8" cy="845.8" r="8.55"/><circle cx="898.3" cy="851.7" r="8.55"/><circle cx="900.0" cy="841.7" r="8.55"/><circle cx="818.3" cy="866.7" r="8.55"/><circle cx="835.0" cy="865.8" r="8.55"/><circle cx="833.3" cy="875.0" r="8.55"/><circle cx="864.2" cy="883.3" r="8.55"/><circle cx="833.3" cy="886.7" r="8.55"/><circle cx="827.5" cy="898.3" r="8.55"/><circle cx="846.7" cy="895.8" r="8.55"/><circle cx="853.3" cy="906.7" r="8.55"/><circle cx="865.0" cy="915.0" r="8.55"/><circle cx="871.7" cy="917.5" r="8.55"/><circle cx="915.0" cy="858.3" r="8.55"/><circle cx="892.5" cy="885.0" r="8.55"/><circle cx="938.3" cy="885.8" r="8.55"/><circle cx="966.7" cy="878.3" r="8.55"/><circle cx="978.3" cy="874.2" r="8.55"/><circle cx="980.8" cy="881.7" r="8.55"/><circle cx="995.8" cy="905.8" r="8.55"/><circle cx="1019.2" cy="900.0" r="8.55"/><circle cx="1021.7" cy="915.8" r="8.55"/><circle cx="1015.8" cy="935.8" r="8.55"/><circle cx="1013.3" cy="952.5" r="8.55"/><circle cx="1015.8" cy="960.8" r="8.55"/><circle cx="720.8" cy="903.3" r="8.55"/><circle cx="736.7" cy="906.7" r="8.55"/><circle cx="726.7" cy="925.8" r="8.55"/><circle cx="711.7" cy="931.7" r="8.55"/><circle cx="700.8" cy="933.3" r="8.55"/><circle cx="784.2" cy="920.0" r="8.55"/><circle cx="747.5" cy="936.7" r="8.55"/><circle cx="755.0" cy="937.5" r="8.55"/><circle cx="762.5" cy="939.2" r="8.55"/><circle cx="771.7" cy="948.3" r="8.55"/><circle cx="744.2" cy="952.5" r="8.55"/><circle cx="744.2" cy="965.8" r="8.55"/><circle cx="726.7" cy="975.0" r="8.55"/><circle cx="735.0" cy="981.7" r="8.55"/><circle cx="747.5" cy="979.2" r="8.55"/><circle cx="789.2" cy="939.2" r="8.55"/><circle cx="799.2" cy="934.2" r="8.55"/><circle cx="803.3" cy="936.7" r="8.55"/><circle cx="799.2" cy="974.2" r="8.55"/><circle cx="855.0" cy="935.0" r="8.55"/><circle cx="858.3" cy="929.2" r="8.55"/><circle cx="875.8" cy="933.3" r="8.55"/><circle cx="858.3" cy="967.5" r="8.55"/><circle cx="907.5" cy="963.3" r="8.55"/><circle cx="933.3" cy="980.0" r="8.55"/><circle cx="873.3" cy="990.0" r="8.55"/><circle cx="858.3" cy="994.2" r="8.55"/><circle cx="900.0" cy="994.2" r="8.55"/><circle cx="913.3" cy="1001.7" r="8.55"/><circle cx="955.0" cy="1000.0" r="8.55"/><circle cx="967.5" cy="992.5" r="8.55"/><circle cx="684.2" cy="991.7" r="8.55"/><circle cx="702.5" cy="993.3" r="8.55"/><circle cx="688.3" cy="1005.0" r="8.55"/><circle cx="1016.7" cy="1001.7" r="8.55"/><circle cx="1028.3" cy="988.3" r="8.55"/><circle cx="1030.0" cy="805.0" r="8.55"/><circle cx="1085.8" cy="810.0" r="8.55"/><circle cx="1085.0" cy="813.3" r="8.55"/><circle cx="1102.5" cy="804.2" r="8.55"/><circle cx="1111.7" cy="818.3" r="8.55"/><circle cx="1120.0" cy="818.3" r="8.55"/><circle cx="1130.0" cy="815.0" r="8.55"/><circle cx="1087.5" cy="834.2" r="8.55"/><circle cx="1145.8" cy="787.5" r="8.55"/><circle cx="1158.3" cy="790.8" r="8.55"/><circle cx="1165.0" cy="773.3" r="8.55"/><circle cx="1178.3" cy="778.3" r="8.55"/><circle cx="1150.0" cy="800.0" r="8.55"/><circle cx="1158.3" cy="818.3" r="8.55"/><circle cx="1148.3" cy="820.0" r="8.55"/><circle cx="1144.2" cy="840.8" r="8.55"/><circle cx="1196.7" cy="823.3" r="8.55"/><circle cx="1040.0" cy="865.8" r="8.55"/><circle cx="1059.2" cy="865.0" r="8.55"/><circle cx="1050.8" cy="885.0" r="8.55"/><circle cx="1051.7" cy="916.7" r="8.55"/><circle cx="1073.3" cy="919.2" r="8.55"/><circle cx="1040.0" cy="933.3" r="8.55"/><circle cx="1082.5" cy="938.3" r="8.55"/><circle cx="1097.5" cy="935.8" r="8.55"/><circle cx="1092.5" cy="950.0" r="8.55"/><circle cx="1117.5" cy="942.5" r="8.55"/><circle cx="1084.2" cy="963.3" r="8.55"/><circle cx="1088.3" cy="970.0" r="8.55"/><circle cx="1043.3" cy="957.5" r="8.55"/><circle cx="1041.7" cy="961.7" r="8.55"/><circle cx="1043.3" cy="985.0" r="8.55"/><circle cx="1100.0" cy="984.2" r="8.55"/><circle cx="1030.0" cy="998.3" r="8.55"/><circle cx="1167.5" cy="941.7" r="8.55"/><circle cx="1226.7" cy="932.5" r="8.55"/><circle cx="1241.7" cy="926.7" r="8.55"/><circle cx="1253.3" cy="923.3" r="8.55"/><circle cx="1263.3" cy="921.7" r="8.55"/><circle cx="1278.3" cy="913.3" r="8.55"/><circle cx="1353.3" cy="900.8" r="8.55"/><circle cx="1255.8" cy="770.8" r="8.55"/><circle cx="1285.0" cy="763.3" r="8.55"/><circle cx="1286.7" cy="773.3" r="8.55"/><circle cx="1280.8" cy="800.8" r="8.55"/><circle cx="1301.7" cy="785.0" r="8.55"/><circle cx="1305.8" cy="790.0" r="8.55"/><circle cx="1321.7" cy="760.0" r="8.55"/><circle cx="1336.7" cy="755.0" r="8.55"/><circle cx="1366.7" cy="755.0" r="8.55"/><circle cx="1333.3" cy="793.3" r="8.55"/><circle cx="1343.3" cy="809.2" r="8.55"/><circle cx="1328.3" cy="821.7" r="8.55"/><circle cx="1354.2" cy="767.5" r="8.55"/><circle cx="1350.0" cy="773.3" r="8.55"/><circle cx="1353.3" cy="783.3" r="8.55"/><circle cx="1365.8" cy="798.3" r="8.55"/><circle cx="1358.3" cy="816.7" r="8.55"/><circle cx="1368.3" cy="823.3" r="8.55"/><circle cx="1316.7" cy="845.0" r="8.55"/><circle cx="1284.2" cy="848.3" r="8.55"/><circle cx="1285.0" cy="865.0" r="8.55"/><circle cx="1288.3" cy="871.7" r="8.55"/><circle cx="1307.5" cy="861.7" r="8.55"/><circle cx="1308.3" cy="876.7" r="8.55"/><circle cx="1334.2" cy="863.3" r="8.55"/><circle cx="1325.0" cy="868.3" r="8.55"/><circle cx="1343.3" cy="880.8" r="8.55"/><circle cx="1356.7" cy="863.3" r="8.55"/><circle cx="1411.7" cy="881.7" r="8.55"/><circle cx="501.7" cy="1089.2" r="8.55"/><circle cx="537.5" cy="1088.3" r="8.55"/><circle cx="576.7" cy="1092.5" r="8.55"/><circle cx="536.7" cy="1103.3" r="8.55"/><circle cx="537.5" cy="1110.0" r="8.55"/><circle cx="469.2" cy="1105.8" r="8.55"/><circle cx="457.5" cy="1114.2" r="8.55"/><circle cx="505.0" cy="1105.0" r="8.55"/><circle cx="519.2" cy="1106.7" r="8.55"/><circle cx="520.0" cy="1110.0" r="8.55"/><circle cx="500.8" cy="1117.5" r="8.55"/><circle cx="510.0" cy="1115.8" r="8.55"/><circle cx="860.0" cy="1008.3" r="8.55"/><circle cx="863.3" cy="1013.3" r="8.55"/><circle cx="878.3" cy="1016.7" r="8.55"/><circle cx="875.0" cy="1020.0" r="8.55"/><circle cx="906.7" cy="1005.0" r="8.55"/><circle cx="964.2" cy="1010.0" r="8.55"/><circle cx="955.0" cy="1015.0" r="8.55"/><circle cx="960.0" cy="1015.0" r="8.55"/><circle cx="930.8" cy="1034.2" r="8.55"/><circle cx="1008.3" cy="1016.7" r="8.55"/><circle cx="1011.7" cy="1025.0" r="8.55"/><circle cx="1018.3" cy="1026.7" r="8.55"/><circle cx="1021.7" cy="1013.3" r="8.55"/><circle cx="1028.3" cy="1018.3" r="8.55"/><circle cx="1013.3" cy="1057.5" r="8.55"/><circle cx="1020.0" cy="1055.8" r="8.55"/><circle cx="970.0" cy="1062.5" r="8.55"/><circle cx="978.3" cy="1065.0" r="8.55"/><circle cx="986.7" cy="1069.2" r="8.55"/><circle cx="981.7" cy="1073.3" r="8.55"/><circle cx="990.0" cy="1071.7" r="8.55"/><circle cx="965.0" cy="1073.3" r="8.55"/><circle cx="928.3" cy="1086.7" r="8.55"/><circle cx="912.5" cy="1089.2" r="8.55"/><circle cx="891.7" cy="1087.5" r="8.55"/><circle cx="842.5" cy="1090.0" r="8.55"/><circle cx="1010.0" cy="1103.3" r="8.55"/><circle cx="1018.3" cy="1105.0" r="8.55"/><circle cx="1018.3" cy="1121.7" r="8.55"/><circle cx="985.0" cy="1129.2" r="8.55"/><circle cx="998.3" cy="1135.0" r="8.55"/><circle cx="1023.3" cy="1158.3" r="8.55"/><circle cx="1028.3" cy="1046.7" r="8.55"/><circle cx="1042.5" cy="1024.2" r="8.55"/><circle cx="1033.3" cy="1026.7" r="8.55"/><circle cx="1065.0" cy="1021.7" r="8.55"/><circle cx="1084.2" cy="1015.0" r="8.55"/><circle cx="1055.0" cy="1031.7" r="8.55"/><circle cx="1079.2" cy="1033.3" r="8.55"/><circle cx="1066.7" cy="1040.0" r="8.55"/><circle cx="1041.7" cy="1051.7" r="8.55"/><circle cx="1055.8" cy="1050.0" r="8.55"/><circle cx="1070.0" cy="1048.3" r="8.55"/><circle cx="1077.5" cy="1048.3" r="8.55"/><circle cx="1131.7" cy="1049.2" r="8.55"/><circle cx="1059.2" cy="1133.3" r="8.55"/><circle cx="1061.7" cy="1138.3" r="8.55"/><circle cx="1041.7" cy="1164.2" r="8.55"/><circle cx="1335.8" cy="1028.3" r="8.55"/><circle cx="1340.8" cy="1042.5" r="8.55"/><circle cx="1348.3" cy="1045.0" r="8.55"/><circle cx="1343.3" cy="1053.3" r="8.55"/><circle cx="1340.0" cy="1056.7" r="8.55"/><circle cx="1270.0" cy="1116.7" r="8.55"/><circle cx="1275.0" cy="1126.7" r="8.55"/><circle cx="1284.2" cy="1136.7" r="8.55"/><circle cx="1276.7" cy="1141.7" r="8.55"/><circle cx="1256.7" cy="1154.2" r="8.55"/><circle cx="1276.7" cy="1156.7" r="8.55"/><circle cx="1300.0" cy="1155.0" r="8.55"/><circle cx="1263.3" cy="1176.7" r="8.55"/><circle cx="1263.3" cy="1183.3" r="8.55"/><circle cx="1273.3" cy="1176.7" r="8.55"/><circle cx="1285.8" cy="1180.0" r="8.55"/>
</g>
<g fill="#721f81">
<circle cx="863.3" cy="288.3" r="8.55"/><circle cx="866.7" cy="298.3" r="8.55"/><circle cx="880.8" cy="292.5" r="8.55"/><circle cx="890.0" cy="287.5" r="8.55"/><circle cx="918.3" cy="291.7" r="8.55"/><circle cx="926.7" cy="286.7" r="8.55"/><circle cx="947.5" cy="290.0" r="8.55"/><circle cx="899.7" cy="303.3" r="8.55"/><circle cx="969.2" cy="307.5" r="8.55"/><circle cx="830.0" cy="316.7" r="8.55"/><circle cx="840.0" cy="321.7" r="8.55"/><circle cx="851.7" cy="326.7" r="8.55"/><circle cx="851.7" cy="338.3" r="8.55"/><circle cx="853.3" cy="345.0" r="8.55"/><circle cx="935.0" cy="335.8" r="8.55"/><circle cx="1023.3" cy="341.7" r="8.55"/><circle cx="900.8" cy="351.7" r="8.55"/><circle cx="915.0" cy="351.7" r="8.55"/><circle cx="862.5" cy="350.0" r="8.55"/><circle cx="872.5" cy="357.5" r="8.55"/><circle cx="845.5" cy="354.2" r="8.55"/><circle cx="1029.2" cy="358.3" r="8.55"/><circle cx="784.2" cy="370.0" r="8.55"/><circle cx="918.3" cy="373.3" r="8.55"/><circle cx="940.8" cy="370.0" r="8.55"/><circle cx="950.8" cy="383.3" r="8.55"/><circle cx="996.7" cy="381.7" r="8.55"/><circle cx="993.3" cy="401.7" r="8.55"/><circle cx="1001.7" cy="396.7" r="8.55"/><circle cx="895.0" cy="400.0" r="8.55"/><circle cx="986.7" cy="417.5" r="8.55"/><circle cx="1025.8" cy="407.5" r="8.55"/><circle cx="758.3" cy="414.2" r="8.55"/><circle cx="786.7" cy="430.5" r="8.55"/><circle cx="717.5" cy="433.3" r="8.55"/><circle cx="740.8" cy="439.2" r="8.55"/><circle cx="751.7" cy="436.7" r="8.55"/><circle cx="953.3" cy="435.0" r="8.55"/><circle cx="963.3" cy="432.5" r="8.55"/><circle cx="963.3" cy="440.0" r="8.55"/><circle cx="1000.0" cy="437.5" r="8.55"/><circle cx="720.0" cy="449.2" r="8.55"/><circle cx="714.2" cy="456.7" r="8.55"/><circle cx="800.0" cy="448.3" r="8.55"/><circle cx="850.0" cy="460.0" r="8.55"/><circle cx="915.8" cy="462.5" r="8.55"/><circle cx="893.3" cy="470.0" r="8.55"/><circle cx="980.0" cy="450.8" r="8.55"/><circle cx="700.0" cy="475.8" r="8.55"/><circle cx="683.3" cy="488.3" r="8.55"/><circle cx="793.3" cy="476.7" r="8.55"/><circle cx="890.0" cy="486.7" r="8.55"/><circle cx="910.8" cy="475.0" r="8.55"/><circle cx="934.2" cy="478.3" r="8.55"/><circle cx="960.8" cy="485.8" r="8.55"/><circle cx="715.0" cy="501.7" r="8.55"/><circle cx="826.7" cy="504.2" r="8.55"/><circle cx="966.7" cy="498.3" r="8.55"/><circle cx="798.3" cy="505.0" r="8.55"/><circle cx="1060.8" cy="318.3" r="8.55"/><circle cx="1075.0" cy="334.2" r="8.55"/><circle cx="1086.7" cy="339.2" r="8.55"/><circle cx="1096.7" cy="336.7" r="8.55"/><circle cx="1035.8" cy="359.2" r="8.55"/><circle cx="1075.0" cy="360.0" r="8.55"/><circle cx="1066.7" cy="371.7" r="8.55"/><circle cx="1065.0" cy="380.0" r="8.55"/><circle cx="1137.5" cy="358.3" r="8.55"/><circle cx="1143.3" cy="361.7" r="8.55"/><circle cx="1153.3" cy="401.7" r="8.55"/><circle cx="1180.8" cy="383.3" r="8.55"/><circle cx="1215.0" cy="375.0" r="8.55"/><circle cx="1213.3" cy="400.8" r="8.55"/><circle cx="1205.8" cy="405.0" r="8.55"/><circle cx="1170.8" cy="413.3" r="8.55"/><circle cx="1210.0" cy="423.3" r="8.55"/><circle cx="1180.0" cy="431.7" r="8.55"/><circle cx="1195.0" cy="434.2" r="8.55"/><circle cx="1207.5" cy="446.7" r="8.55"/><circle cx="1209.2" cy="459.2" r="8.55"/><circle cx="1162.5" cy="455.0" r="8.55"/><circle cx="1160.0" cy="490.8" r="8.55"/><circle cx="1273.3" cy="416.7" r="8.55"/><circle cx="1311.7" cy="446.7" r="8.55"/><circle cx="1300.0" cy="475.8" r="8.55"/><circle cx="1319.2" cy="475.0" r="8.55"/><circle cx="1065.0" cy="414.2" r="8.55"/><circle cx="1033.3" cy="426.7" r="8.55"/><circle cx="1071.7" cy="428.3" r="8.55"/><circle cx="1066.7" cy="443.3" r="8.55"/><circle cx="1071.7" cy="438.3" r="8.55"/><circle cx="1088.3" cy="445.0" r="8.55"/><circle cx="1101.7" cy="452.5" r="8.55"/><circle cx="1080.0" cy="455.0" r="8.55"/><circle cx="1111.7" cy="455.8" r="8.55"/><circle cx="1115.0" cy="461.7" r="8.55"/><circle cx="1036.7" cy="460.0" r="8.55"/><circle cx="1064.2" cy="470.8" r="8.55"/><circle cx="1108.3" cy="475.0" r="8.55"/><circle cx="1055.0" cy="486.7" r="8.55"/><circle cx="1105.0" cy="500.0" r="8.55"/><circle cx="1120.0" cy="493.3" r="8.55"/><circle cx="1043.3" cy="505.0" r="8.55"/><circle cx="1479.2" cy="542.5" r="8.55"/><circle cx="1486.7" cy="550.0" r="8.55"/><circle cx="1492.5" cy="553.3" r="8.55"/><circle cx="1385.8" cy="588.3" r="8.55"/><circle cx="1378.3" cy="566.7" r="8.55"/><circle cx="1437.5" cy="612.5" r="8.55"/><circle cx="1475.0" cy="622.5" r="8.55"/><circle cx="1648.3" cy="583.3" r="8.55"/><circle cx="1656.7" cy="578.3" r="8.55"/><circle cx="1673.3" cy="575.0" r="8.55"/><circle cx="1665.0" cy="586.7" r="8.55"/><circle cx="1665.8" cy="596.7" r="8.55"/><circle cx="1700.0" cy="614.2" r="8.55"/><circle cx="567.5" cy="497.5" r="8.55"/><circle cx="575.0" cy="500.0" r="8.55"/><circle cx="568.3" cy="507.5" r="8.55"/><circle cx="578.3" cy="511.7" r="8.55"/><circle cx="580.0" cy="508.3" r="8.55"/><circle cx="605.0" cy="504.2" r="8.55"/><circle cx="613.3" cy="520.8" r="8.55"/><circle cx="574.2" cy="540.0" r="8.55"/><circle cx="605.0" cy="540.8" r="8.55"/><circle cx="600.0" cy="553.3" r="8.55"/><circle cx="572.5" cy="561.7" r="8.55"/><circle cx="615.0" cy="559.2" r="8.55"/><circle cx="636.7" cy="565.0" r="8.55"/><circle cx="573.3" cy="587.5" r="8.55"/><circle cx="583.3" cy="585.8" r="8.55"/><circle cx="626.7" cy="585.8" r="8.55"/><circle cx="645.0" cy="590.0" r="8.55"/><circle cx="590.0" cy="608.3" r="8.55"/><circle cx="610.0" cy="618.3" r="8.55"/><circle cx="635.8" cy="604.2" r="8.55"/><circle cx="600.0" cy="630.0" r="8.55"/><circle cx="593.3" cy="633.3" r="8.55"/><circle cx="661.7" cy="585.0" r="8.55"/><circle cx="668.3" cy="596.7" r="8.55"/><circle cx="675.0" cy="578.3" r="8.55"/><circle cx="652.5" cy="680.0" r="8.55"/><circle cx="672.5" cy="679.2" r="8.55"/><circle cx="653.3" cy="510.0" r="8.55"/><circle cx="660.8" cy="485.0" r="8.55"/><circle cx="657.5" cy="540.8" r="8.55"/><circle cx="955.0" cy="520.0" r="8.55"/><circle cx="964.2" cy="530.8" r="8.55"/><circle cx="976.7" cy="508.3" r="8.55"/><circle cx="806.7" cy="539.2" r="8.55"/><circle cx="811.7" cy="552.5" r="8.55"/><circle cx="950.0" cy="556.7" r="8.55"/><circle cx="971.7" cy="552.5" r="8.55"/><circle cx="1008.3" cy="543.3" r="8.55"/><circle cx="1019.2" cy="558.3" r="8.55"/><circle cx="1030.0" cy="546.7" r="8.55"/><circle cx="727.5" cy="560.0" r="8.55"/><circle cx="692.5" cy="590.0" r="8.55"/><circle cx="680.0" cy="585.0" r="8.55"/><circle cx="787.5" cy="577.5" r="8.55"/><circle cx="849.2" cy="590.0" r="8.55"/><circle cx="818.3" cy="595.8" r="8.55"/><circle cx="688.3" cy="615.8" r="8.55"/><circle cx="710.8" cy="624.2" r="8.55"/><circle cx="805.0" cy="633.3" r="8.55"/><circle cx="865.8" cy="615.8" r="8.55"/><circle cx="890.0" cy="634.2" r="8.55"/><circle cx="875.0" cy="647.5" r="8.55"/><circle cx="770.0" cy="662.5" r="8.55"/><circle cx="783.3" cy="671.7" r="8.55"/><circle cx="805.0" cy="669.2" r="8.55"/><circle cx="888.3" cy="678.3" r="8.55"/><circle cx="755.8" cy="683.3" r="8.55"/><circle cx="751.7" cy="688.3" r="8.55"/><circle cx="815.0" cy="706.7" r="8.55"/><circle cx="828.3" cy="706.7" r="8.55"/><circle cx="845.0" cy="703.3" r="8.55"/><circle cx="854.2" cy="708.3" r="8.55"/><circle cx="770.8" cy="725.8" r="8.55"/><circle cx="755.0" cy="739.2" r="8.55"/><circle cx="771.7" cy="750.0" r="8.55"/><circle cx="900.0" cy="736.7" r="8.55"/><circle cx="891.7" cy="740.0" r="8.55"/><circle cx="920.0" cy="748.3" r="8.55"/><circle cx="936.7" cy="583.3" r="8.55"/><circle cx="996.7" cy="586.7" r="8.55"/><circle cx="997.5" cy="609.2" r="8.55"/><circle cx="1008.3" cy="615.0" r="8.55"/><circle cx="1019.2" cy="610.8" r="8.55"/><circle cx="969.2" cy="618.3" r="8.55"/><circle cx="997.5" cy="642.5" r="8.55"/><circle cx="1015.8" cy="635.0" r="8.55"/><circle cx="1030.0" cy="650.0" r="8.55"/><circle cx="1025.0" cy="674.2" r="8.55"/><circle cx="680.0" cy="680.0" r="8.55"/><circle cx="1101.7" cy="532.5" r="8.55"/><circle cx="1065.8" cy="535.8" r="8.55"/><circle cx="1073.3" cy="538.3" r="8.55"/><circle cx="1033.3" cy="558.3" r="8.55"/><circle cx="1050.8" cy="557.5" r="8.55"/><circle cx="1074.2" cy="551.7" r="8.55"/><circle cx="1099.2" cy="555.0" r="8.55"/><circle cx="1106.7" cy="566.7" r="8.55"/><circle cx="1123.3" cy="575.8" r="8.55"/><circle cx="1084.2" cy="582.5" r="8.55"/><circle cx="1090.0" cy="580.0" r="8.55"/><circle cx="1052.5" cy="591.7" r="8.55"/><circle cx="1085.0" cy="624.2" r="8.55"/><circle cx="1164.2" cy="661.7" r="8.55"/><circle cx="1050.8" cy="650.0" r="8.55"/><circle cx="1075.0" cy="648.3" r="8.55"/><circle cx="1033.3" cy="663.3" r="8.55"/><circle cx="1263.3" cy="614.2" r="8.55"/><circle cx="1257.5" cy="649.2" r="8.55"/><circle cx="1218.3" cy="718.3" r="8.55"/><circle cx="1252.5" cy="720.0" r="8.55"/><circle cx="1254.2" cy="731.7" r="8.55"/><circle cx="1273.3" cy="753.3" r="8.55"/><circle cx="1281.7" cy="755.0" r="8.55"/><circle cx="1330.8" cy="545.0" r="8.55"/><circle cx="1330.0" cy="550.8" r="8.55"/><circle cx="1314.2" cy="579.2" r="8.55"/><circle cx="1310.8" cy="590.0" r="8.55"/><circle cx="1310.0" cy="610.8" r="8.55"/><circle cx="1322.5" cy="613.3" r="8.55"/><circle cx="1308.3" cy="726.7" r="8.55"/><circle cx="1326.7" cy="735.0" r="8.55"/><circle cx="1335.0" cy="748.3" r="8.55"/><circle cx="1368.3" cy="577.5" r="8.55"/><circle cx="1370.0" cy="641.7" r="8.55"/><circle cx="1367.5" cy="653.3" r="8.55"/><circle cx="1362.5" cy="666.7" r="8.55"/><circle cx="1360.0" cy="717.5" r="8.55"/><circle cx="1371.7" cy="716.7" r="8.55"/><circle cx="1380.0" cy="715.0" r="8.55"/><circle cx="1386.7" cy="666.7" r="8.55"/><circle cx="1425.0" cy="663.3" r="8.55"/><circle cx="1456.7" cy="652.5" r="8.55"/><circle cx="1455.0" cy="660.0" r="8.55"/><circle cx="1477.5" cy="664.2" r="8.55"/><circle cx="1421.7" cy="694.2" r="8.55"/><circle cx="1467.5" cy="692.5" r="8.55"/><circle cx="1414.2" cy="710.8" r="8.55"/><circle cx="1430.0" cy="715.8" r="8.55"/><circle cx="1448.3" cy="716.7" r="8.55"/><circle cx="1454.2" cy="710.8" r="8.55"/><circle cx="1465.0" cy="723.3" r="8.55"/><circle cx="1425.8" cy="735.0" r="8.55"/><circle cx="1430.0" cy="745.0" r="8.55"/><circle cx="1425.0" cy="753.3" r="8.55"/><circle cx="1431.7" cy="751.7" r="8.55"/><circle cx="1401.7" cy="750.0" r="8.55"/><circle cx="1425.0" cy="766.7" r="8.55"/><circle cx="1415.0" cy="783.3" r="8.55"/><circle cx="1389.2" cy="790.8" r="8.55"/><circle cx="1401.7" cy="804.2" r="8.55"/><circle cx="1435.0" cy="811.7" r="8.55"/><circle cx="1435.0" cy="821.7" r="8.55"/><circle cx="1423.3" cy="842.5" r="8.55"/><circle cx="1385.8" cy="840.8" r="8.55"/><circle cx="1395.8" cy="856.7" r="8.55"/><circle cx="1428.3" cy="860.8" r="8.55"/><circle cx="1395.0" cy="876.7" r="8.55"/><circle cx="1499.2" cy="707.5" r="8.55"/><circle cx="1523.3" cy="697.5" r="8.55"/><circle cx="1528.3" cy="710.8" r="8.55"/><circle cx="1508.3" cy="722.5" r="8.55"/><circle cx="1479.2" cy="765.0" r="8.55"/><circle cx="1501.7" cy="781.7" r="8.55"/><circle cx="1482.5" cy="785.8" r="8.55"/><circle cx="1476.7" cy="796.7" r="8.55"/><circle cx="1483.3" cy="805.0" r="8.55"/><circle cx="1465.0" cy="811.7" r="8.55"/><circle cx="1478.3" cy="821.7" r="8.55"/><circle cx="1483.3" cy="815.0" r="8.55"/><circle cx="1486.7" cy="818.3" r="8.55"/><circle cx="1466.7" cy="834.2" r="8.55"/><circle cx="1480.8" cy="838.3" r="8.55"/><circle cx="1485.0" cy="843.3" r="8.55"/><circle cx="1520.8" cy="792.5" r="8.55"/><circle cx="1516.7" cy="813.3" r="8.55"/><circle cx="1539.2" cy="775.8" r="8.55"/><circle cx="1544.2" cy="663.3" r="8.55"/><circle cx="1534.2" cy="673.3" r="8.55"/><circle cx="1555.8" cy="695.0" r="8.55"/><circle cx="1582.5" cy="720.0" r="8.55"/><circle cx="1595.8" cy="740.0" r="8.55"/><circle cx="1560.8" cy="738.3" r="8.55"/><circle cx="1534.2" cy="742.5" r="8.55"/><circle cx="1556.7" cy="746.7" r="8.55"/><circle cx="1568.3" cy="750.0" r="8.55"/><circle cx="1601.7" cy="758.3" r="8.55"/><circle cx="1627.5" cy="743.3" r="8.55"/><circle cx="1565.0" cy="777.5" r="8.55"/><circle cx="1580.0" cy="780.0" r="8.55"/><circle cx="1592.5" cy="783.3" r="8.55"/><circle cx="1611.7" cy="786.7" r="8.55"/><circle cx="1642.5" cy="771.7" r="8.55"/><circle cx="1562.5" cy="806.7" r="8.55"/><circle cx="1580.0" cy="813.3" r="8.55"/><circle cx="1589.2" cy="819.2" r="8.55"/><circle cx="1552.5" cy="826.7" r="8.55"/><circle cx="1665.0" cy="796.7" r="8.55"/><circle cx="1677.5" cy="800.8" r="8.55"/><circle cx="595.8" cy="879.2" r="8.55"/><circle cx="605.8" cy="878.3" r="8.55"/><circle cx="623.3" cy="880.0" r="8.55"/><circle cx="625.0" cy="885.0" r="8.55"/><circle cx="642.5" cy="909.2" r="8.55"/><circle cx="575.8" cy="928.3" r="8.55"/><circle cx="583.3" cy="939.2" r="8.55"/><circle cx="540.8" cy="934.2" r="8.55"/><circle cx="583.3" cy="962.5" r="8.55"/><circle cx="535.8" cy="976.7" r="8.55"/><circle cx="545.0" cy="991.7" r="8.55"/><circle cx="545.8" cy="996.7" r="8.55"/><circle cx="601.7" cy="1002.5" r="8.55"/><circle cx="575.0" cy="1040.8" r="8.55"/><circle cx="545.0" cy="1025.8" r="8.55"/><circle cx="555.0" cy="1024.2" r="8.55"/><circle cx="537.5" cy="1045.8" r="8.55"/><circle cx="540.8" cy="1067.5" r="8.55"/><circle cx="570.0" cy="1062.5" r="8.55"/><circle cx="561.7" cy="1075.0" r="8.55"/><circle cx="515.0" cy="943.3" r="8.55"/><circle cx="435.8" cy="951.7" r="8.55"/><circle cx="465.8" cy="978.3" r="8.55"/><circle cx="490.0" cy="970.0" r="8.55"/><circle cx="495.0" cy="974.2" r="8.55"/><circle cx="497.5" cy="988.3" r="8.55"/><circle cx="438.3" cy="1001.7" r="8.55"/><circle cx="418.3" cy="1018.3" r="8.55"/><circle cx="433.3" cy="1024.2" r="8.55"/><circle cx="452.5" cy="1028.3" r="8.55"/><circle cx="506.7" cy="1038.3" r="8.55"/><circle cx="502.5" cy="1053.3" r="8.55"/><circle cx="491.7" cy="1075.0" r="8.55"/><circle cx="511.7" cy="1080.0" r="8.55"/><circle cx="436.7" cy="1055.8" r="8.55"/><circle cx="415.8" cy="1062.5" r="8.55"/><circle cx="428.3" cy="1065.8" r="8.55"/><circle cx="431.7" cy="1075.0" r="8.55"/><circle cx="423.3" cy="1081.7" r="8.55"/><circle cx="365.8" cy="1025.0" r="8.55"/><circle cx="368.3" cy="1031.7" r="8.55"/><circle cx="385.8" cy="1040.0" r="8.55"/><circle cx="347.5" cy="1045.0" r="8.55"/><circle cx="365.8" cy="1059.2" r="8.55"/><circle cx="354.2" cy="1065.0" r="8.55"/><circle cx="763.3" cy="758.3" r="8.55"/><circle cx="736.7" cy="780.0" r="8.55"/><circle cx="807.5" cy="777.5" r="8.55"/><circle cx="829.2" cy="782.5" r="8.55"/><circle cx="861.7" cy="767.5" r="8.55"/><circle cx="917.5" cy="766.7" r="8.55"/><circle cx="925.0" cy="778.3" r="8.55"/><circle cx="838.3" cy="802.5" r="8.55"/><circle cx="909.2" cy="794.2" r="8.55"/><circle cx="931.7" cy="788.3" r="8.55"/><circle cx="736.7" cy="796.7" r="8.55"/><circle cx="750.8" cy="796.7" r="8.55"/><circle cx="795.8" cy="807.5" r="8.55"/><circle cx="824.2" cy="815.8" r="8.55"/><circle cx="823.3" cy="825.0" r="8.55"/><circle cx="821.7" cy="836.7" r="8.55"/><circle cx="833.3" cy="833.3" r="8.55"/><circle cx="873.3" cy="815.8" r="8.55"/><circle cx="892.5" cy="817.5" r="8.55"/><circle cx="955.0" cy="820.0" r="8.55"/><circle cx="771.7" cy="830.8" r="8.55"/><circle cx="916.7" cy="846.7" r="8.55"/><circle cx="791.7" cy="861.7" r="8.55"/><circle cx="837.5" cy="869.2" r="8.55"/><circle cx="852.5" cy="878.3" r="8.55"/><circle cx="818.3" cy="895.8" r="8.55"/><circle cx="819.2" cy="915.0" r="8.55"/><circle cx="904.2" cy="864.2" r="8.55"/><circle cx="918.3" cy="868.3" r="8.55"/><circle cx="921.7" cy="875.0" r="8.55"/><circle cx="900.0" cy="900.8" r="8.55"/><circle cx="990.8" cy="880.8" r="8.55"/><circle cx="1005.8" cy="885.8" r="8.55"/><circle cx="996.7" cy="890.0" r="8.55"/><circle cx="1005.8" cy="910.0" r="8.55"/><circle cx="1030.0" cy="916.7" r="8.55"/><circle cx="1023.3" cy="953.3" r="8.55"/><circle cx="713.3" cy="871.7" r="8.55"/><circle cx="707.5" cy="907.5" r="8.55"/><circle cx="714.2" cy="918.3" r="8.55"/><circle cx="721.7" cy="918.3" r="8.55"/><circle cx="710.8" cy="946.7" r="8.55"/><circle cx="814.2" cy="935.0" r="8.55"/><circle cx="836.7" cy="940.0" r="8.55"/><circle cx="835.8" cy="953.3" r="8.55"/><circle cx="864.2" cy="954.2" r="8.55"/><circle cx="854.2" cy="966.7" r="8.55"/><circle cx="917.5" cy="981.7" r="8.55"/><circle cx="918.3" cy="990.0" r="8.55"/><circle cx="861.7" cy="998.3" r="8.55"/><circle cx="960.0" cy="1005.0" r="8.55"/><circle cx="1083.3" cy="793.3" r="8.55"/><circle cx="1113.3" cy="808.3" r="8.55"/><circle cx="1130.8" cy="806.7" r="8.55"/><circle cx="1141.7" cy="810.0" r="8.55"/><circle cx="1109.2" cy="829.2" r="8.55"/><circle cx="1075.8" cy="837.5" r="8.55"/><circle cx="1177.5" cy="815.0" r="8.55"/><circle cx="1176.7" cy="830.0" r="8.55"/><circle cx="1175.8" cy="840.8" r="8.55"/><circle cx="1199.2" cy="795.0" r="8.55"/><circle cx="1209.2" cy="796.7" r="8.55"/><circle cx="1205.0" cy="808.3" r="8.55"/><circle cx="1202.5" cy="819.2" r="8.55"/><circle cx="1047.5" cy="902.5" r="8.55"/><circle cx="1085.0" cy="948.3" r="8.55"/><circle cx="1091.7" cy="968.3" r="8.55"/><circle cx="1055.8" cy="960.0" r="8.55"/><circle cx="1030.0" cy="951.7" r="8.55"/><circle cx="1081.7" cy="985.0" r="8.55"/><circle cx="1160.0" cy="954.2" r="8.55"/><circle cx="1199.2" cy="937.5" r="8.55"/><circle cx="1262.5" cy="927.5" r="8.55"/><circle cx="1334.2" cy="905.8" r="8.55"/><circle cx="1274.2" cy="765.0" r="8.55"/><circle cx="1281.7" cy="785.8" r="8.55"/><circle cx="1261.7" cy="818.3" r="8.55"/><circle cx="1313.3" cy="786.7" r="8.55"/><circle cx="1332.5" cy="777.5" r="8.55"/><circle cx="1322.5" cy="814.2" r="8.55"/><circle cx="1335.8" cy="813.3" r="8.55"/><circle cx="1298.3" cy="819.2" r="8.55"/><circle cx="1308.3" cy="830.0" r="8.55"/><circle cx="1323.3" cy="833.3" r="8.55"/><circle cx="1341.7" cy="833.3" r="8.55"/><circle cx="1356.7" cy="836.7" r="8.55"/><circle cx="1281.7" cy="854.2" r="8.55"/><circle cx="1297.5" cy="860.0" r="8.55"/><circle cx="1300.0" cy="875.0" r="8.55"/><circle cx="1350.8" cy="873.3" r="8.55"/><circle cx="1367.5" cy="863.3" r="8.55"/><circle cx="1373.3" cy="866.7" r="8.55"/><circle cx="1364.2" cy="882.5" r="8.55"/><circle cx="1376.7" cy="885.0" r="8.55"/><circle cx="572.5" cy="1089.2" r="8.55"/><circle cx="554.2" cy="1113.3" r="8.55"/><circle cx="460.0" cy="1115.0" r="8.55"/><circle cx="470.8" cy="1121.7" r="8.55"/><circle cx="511.7" cy="1111.7" r="8.55"/><circle cx="872.5" cy="1016.7" r="8.55"/><circle cx="958.3" cy="1073.3" r="8.55"/><circle cx="925.0" cy="1085.8" r="8.55"/><circle cx="887.5" cy="1094.2" r="8.55"/><circle cx="991.7" cy="1091.7" r="8.55"/><circle cx="971.7" cy="1105.8" r="8.55"/><circle cx="997.5" cy="1116.7" r="8.55"/><circle cx="1001.7" cy="1128.3" r="8.55"/><circle cx="1026.7" cy="1120.8" r="8.55"/><circle cx="1000.8" cy="1145.8" r="8.55"/><circle cx="1008.3" cy="1150.0" r="8.55"/><circle cx="1028.3" cy="1167.5" r="8.55"/><circle cx="1057.5" cy="1045.0" r="8.55"/><circle cx="1050.0" cy="1147.5" r="8.55"/><circle cx="1053.3" cy="1152.5" r="8.55"/><circle cx="1038.3" cy="1160.0" r="8.55"/><circle cx="1294.2" cy="1033.3" r="8.55"/><circle cx="1285.8" cy="1040.8" r="8.55"/><circle cx="1305.8" cy="1040.0" r="8.55"/><circle cx="1313.3" cy="1046.7" r="8.55"/><circle cx="1354.2" cy="1040.8" r="8.55"/><circle cx="1293.3" cy="1051.7" r="8.55"/><circle cx="1301.7" cy="1056.7" r="8.55"/><circle cx="1307.5" cy="1060.8" r="8.55"/><circle cx="1332.5" cy="1055.0" r="8.55"/><circle cx="1263.3" cy="1145.0" r="8.55"/><circle cx="1265.8" cy="1164.2" r="8.55"/><circle cx="1287.5" cy="1165.8" r="8.55"/><circle cx="1285.8" cy="1175.0" r="8.55"/>
</g>
<g fill="#c43c75">
<circle cx="915.0" cy="272.5" r="8.55"/><circle cx="910.8" cy="280.0" r="8.55"/><circle cx="855.0" cy="291.7" r="8.55"/><circle cx="933.3" cy="292.5" r="8.55"/><circle cx="856.7" cy="307.5" r="8.55"/><circle cx="877.5" cy="306.7" r="8.55"/><circle cx="898.7" cy="314.7" r="8.55"/><circle cx="956.3" cy="315.0" r="8.55"/><circle cx="833.0" cy="311.3" r="8.55"/><circle cx="884.2" cy="335.0" r="8.55"/><circle cx="894.2" cy="337.5" r="8.55"/><circle cx="801.3" cy="337.5" r="8.55"/><circle cx="800.3" cy="342.5" r="8.55"/><circle cx="914.2" cy="341.7" r="8.55"/><circle cx="870.8" cy="350.0" r="8.55"/><circle cx="935.8" cy="356.7" r="8.55"/><circle cx="787.0" cy="373.7" r="8.55"/><circle cx="858.8" cy="383.3" r="8.55"/><circle cx="935.0" cy="371.7" r="8.55"/><circle cx="938.0" cy="380.0" r="8.55"/><circle cx="1013.3" cy="393.3" r="8.55"/><circle cx="889.2" cy="399.2" r="8.55"/><circle cx="977.5" cy="415.0" r="8.55"/><circle cx="1009.2" cy="409.2" r="8.55"/><circle cx="1006.7" cy="418.3" r="8.55"/><circle cx="771.7" cy="440.8" r="8.55"/><circle cx="897.5" cy="457.5" r="8.55"/><circle cx="985.0" cy="459.2" r="8.55"/><circle cx="693.3" cy="470.8" r="8.55"/><circle cx="858.8" cy="480.5" r="8.55"/><circle cx="941.7" cy="485.8" r="8.55"/><circle cx="1023.3" cy="469.2" r="8.55"/><circle cx="767.5" cy="486.7" r="8.55"/><circle cx="852.5" cy="505.0" r="8.55"/><circle cx="1074.2" cy="320.0" r="8.55"/><circle cx="1096.7" cy="328.3" r="8.55"/><circle cx="1065.0" cy="351.7" r="8.55"/><circle cx="1075.0" cy="355.0" r="8.55"/><circle cx="1083.3" cy="352.5" r="8.55"/><circle cx="1111.7" cy="352.5" r="8.55"/><circle cx="1123.3" cy="360.8" r="8.55"/><circle cx="1057.5" cy="372.5" r="8.55"/><circle cx="1089.2" cy="375.0" r="8.55"/><circle cx="1043.3" cy="386.7" r="8.55"/><circle cx="1118.3" cy="374.2" r="8.55"/><circle cx="1112.5" cy="385.8" r="8.55"/><circle cx="1195.0" cy="377.5" r="8.55"/><circle cx="1188.3" cy="390.8" r="8.55"/><circle cx="1214.2" cy="385.8" r="8.55"/><circle cx="1229.2" cy="394.2" r="8.55"/><circle cx="1177.5" cy="409.2" r="8.55"/><circle cx="1191.7" cy="423.3" r="8.55"/><circle cx="1225.0" cy="418.3" r="8.55"/><circle cx="1162.5" cy="448.3" r="8.55"/><circle cx="1137.5" cy="464.2" r="8.55"/><circle cx="1190.8" cy="469.2" r="8.55"/><circle cx="1205.8" cy="473.3" r="8.55"/><circle cx="1223.3" cy="474.2" r="8.55"/><circle cx="1205.0" cy="496.7" r="8.55"/><circle cx="1267.5" cy="400.8" r="8.55"/><circle cx="1258.3" cy="409.2" r="8.55"/><circle cx="1279.2" cy="412.5" r="8.55"/><circle cx="1305.0" cy="455.8" r="8.55"/><circle cx="1260.0" cy="462.5" r="8.55"/><circle cx="1295.0" cy="490.8" r="8.55"/><circle cx="1068.3" cy="415.0" r="8.55"/><circle cx="1040.0" cy="420.8" r="8.55"/><circle cx="1084.2" cy="426.7" r="8.55"/><circle cx="1092.5" cy="430.0" r="8.55"/><circle cx="1095.8" cy="448.3" r="8.55"/><circle cx="1089.2" cy="459.2" r="8.55"/><circle cx="1033.3" cy="455.0" r="8.55"/><circle cx="1464.2" cy="541.7" r="8.55"/><circle cx="1404.2" cy="558.3" r="8.55"/><circle cx="1412.5" cy="562.5" r="8.55"/><circle cx="1515.8" cy="585.8" r="8.55"/><circle cx="1382.5" cy="616.7" r="8.55"/><circle cx="1522.5" cy="612.5" r="8.55"/><circle cx="604.2" cy="515.0" r="8.55"/><circle cx="595.0" cy="526.7" r="8.55"/><circle cx="611.7" cy="548.3" r="8.55"/><circle cx="587.5" cy="565.8" r="8.55"/><circle cx="630.0" cy="560.8" r="8.55"/><circle cx="587.5" cy="605.0" r="8.55"/><circle cx="600.0" cy="614.2" r="8.55"/><circle cx="587.5" cy="627.5" r="8.55"/><circle cx="590.0" cy="628.3" r="8.55"/><circle cx="670.0" cy="597.5" r="8.55"/><circle cx="620.8" cy="655.0" r="8.55"/><circle cx="650.8" cy="672.5" r="8.55"/><circle cx="638.3" cy="501.7" r="8.55"/><circle cx="636.7" cy="505.8" r="8.55"/><circle cx="656.7" cy="496.7" r="8.55"/><circle cx="671.7" cy="481.7" r="8.55"/><circle cx="680.0" cy="610.0" r="8.55"/><circle cx="716.7" cy="515.0" r="8.55"/><circle cx="1005.0" cy="510.0" r="8.55"/><circle cx="811.7" cy="530.0" r="8.55"/><circle cx="793.3" cy="545.8" r="8.55"/><circle cx="920.8" cy="531.7" r="8.55"/><circle cx="910.8" cy="553.3" r="8.55"/><circle cx="929.2" cy="550.8" r="8.55"/><circle cx="1016.7" cy="540.0" r="8.55"/><circle cx="720.8" cy="566.7" r="8.55"/><circle cx="850.8" cy="562.5" r="8.55"/><circle cx="690.8" cy="580.0" r="8.55"/><circle cx="825.0" cy="605.0" r="8.55"/><circle cx="845.8" cy="605.0" r="8.55"/><circle cx="685.0" cy="615.0" r="8.55"/><circle cx="773.3" cy="619.2" r="8.55"/><circle cx="793.3" cy="625.8" r="8.55"/><circle cx="762.5" cy="644.2" r="8.55"/><circle cx="834.2" cy="625.8" r="8.55"/><circle cx="872.5" cy="615.8" r="8.55"/><circle cx="829.2" cy="646.7" r="8.55"/><circle cx="845.8" cy="641.7" r="8.55"/><circle cx="853.3" cy="651.7" r="8.55"/><circle cx="821.7" cy="670.0" r="8.55"/><circle cx="830.8" cy="664.2" r="8.55"/><circle cx="745.0" cy="708.3" r="8.55"/><circle cx="750.8" cy="716.7" r="8.55"/><circle cx="898.3" cy="707.5" r="8.55"/><circle cx="920.0" cy="698.3" r="8.55"/><circle cx="1000.0" cy="725.0" r="8.55"/><circle cx="759.2" cy="753.3" r="8.55"/><circle cx="898.3" cy="746.7" r="8.55"/><circle cx="825.0" cy="751.7" r="8.55"/><circle cx="940.8" cy="570.8" r="8.55"/><circle cx="944.2" cy="585.8" r="8.55"/><circle cx="1014.2" cy="642.5" r="8.55"/><circle cx="1085.8" cy="513.3" r="8.55"/><circle cx="1090.0" cy="535.0" r="8.55"/><circle cx="1114.2" cy="540.8" r="8.55"/><circle cx="1085.8" cy="547.5" r="8.55"/><circle cx="1030.0" cy="576.7" r="8.55"/><circle cx="1031.7" cy="583.3" r="8.55"/><circle cx="1036.7" cy="590.0" r="8.55"/><circle cx="1085.0" cy="575.8" r="8.55"/><circle cx="1070.8" cy="620.8" r="8.55"/><circle cx="1106.7" cy="631.7" r="8.55"/><circle cx="1132.5" cy="634.2" r="8.55"/><circle cx="1060.0" cy="653.3" r="8.55"/><circle cx="1204.2" cy="514.2" r="8.55"/><circle cx="1203.3" cy="548.3" r="8.55"/><circle cx="1227.5" cy="545.8" r="8.55"/><circle cx="1251.7" cy="620.8" r="8.55"/><circle cx="1228.3" cy="717.5" r="8.55"/><circle cx="1276.7" cy="736.7" r="8.55"/><circle cx="1336.7" cy="511.7" r="8.55"/><circle cx="1336.7" cy="584.2" r="8.55"/><circle cx="1330.8" cy="737.5" r="8.55"/><circle cx="1375.8" cy="700.0" r="8.55"/><circle cx="1345.0" cy="714.2" r="8.55"/><circle cx="1391.7" cy="650.8" r="8.55"/><circle cx="1419.2" cy="655.0" r="8.55"/><circle cx="1399.2" cy="733.3" r="8.55"/><circle cx="1413.3" cy="790.0" r="8.55"/><circle cx="1438.3" cy="829.2" r="8.55"/><circle cx="1385.0" cy="828.3" r="8.55"/><circle cx="1438.3" cy="855.0" r="8.55"/><circle cx="1424.2" cy="867.5" r="8.55"/><circle cx="1520.0" cy="701.7" r="8.55"/><circle cx="1508.3" cy="745.0" r="8.55"/><circle cx="1496.7" cy="775.8" r="8.55"/><circle cx="1491.7" cy="828.3" r="8.55"/><circle cx="1540.0" cy="680.0" r="8.55"/><circle cx="1545.0" cy="675.8" r="8.55"/><circle cx="1551.7" cy="702.5" r="8.55"/><circle cx="1580.0" cy="666.7" r="8.55"/><circle cx="1590.8" cy="728.3" r="8.55"/><circle cx="1543.3" cy="732.5" r="8.55"/><circle cx="1550.0" cy="736.7" r="8.55"/><circle cx="1556.7" cy="740.0" r="8.55"/><circle cx="1555.8" cy="836.7" r="8.55"/><circle cx="1542.5" cy="841.7" r="8.55"/><circle cx="640.0" cy="885.0" r="8.55"/><circle cx="648.3" cy="894.2" r="8.55"/><circle cx="615.0" cy="947.5" r="8.55"/><circle cx="548.3" cy="935.8" r="8.55"/><circle cx="566.7" cy="935.8" r="8.55"/><circle cx="550.0" cy="948.3" r="8.55"/><circle cx="575.8" cy="955.8" r="8.55"/><circle cx="554.2" cy="973.3" r="8.55"/><circle cx="549.2" cy="983.3" r="8.55"/><circle cx="585.8" cy="1010.0" r="8.55"/><circle cx="580.8" cy="1050.8" r="8.55"/><circle cx="529.2" cy="1020.8" r="8.55"/><circle cx="452.5" cy="939.2" r="8.55"/><circle cx="501.7" cy="940.8" r="8.55"/><circle cx="463.3" cy="955.8" r="8.55"/><circle cx="517.5" cy="960.8" r="8.55"/><circle cx="455.8" cy="967.5" r="8.55"/><circle cx="455.8" cy="978.3" r="8.55"/><circle cx="456.7" cy="988.3" r="8.55"/><circle cx="500.0" cy="979.2" r="8.55"/><circle cx="440.8" cy="997.5" r="8.55"/><circle cx="446.7" cy="1000.0" r="8.55"/><circle cx="456.7" cy="996.7" r="8.55"/><circle cx="437.5" cy="1040.0" r="8.55"/><circle cx="443.3" cy="1040.8" r="8.55"/><circle cx="521.7" cy="1058.3" r="8.55"/><circle cx="377.5" cy="1038.3" r="8.55"/><circle cx="349.2" cy="1052.5" r="8.55"/><circle cx="353.3" cy="1060.8" r="8.55"/><circle cx="672.5" cy="1010.8" r="8.55"/><circle cx="770.0" cy="760.0" r="8.55"/><circle cx="780.0" cy="765.0" r="8.55"/><circle cx="790.0" cy="767.5" r="8.55"/><circle cx="790.8" cy="775.0" r="8.55"/><circle cx="740.8" cy="770.8" r="8.55"/><circle cx="738.3" cy="783.3" r="8.55"/><circle cx="811.7" cy="761.7" r="8.55"/><circle cx="821.7" cy="773.3" r="8.55"/><circle cx="839.2" cy="777.5" r="8.55"/><circle cx="945.0" cy="776.7" r="8.55"/><circle cx="846.7" cy="795.8" r="8.55"/><circle cx="867.5" cy="798.3" r="8.55"/><circle cx="927.5" cy="799.2" r="8.55"/><circle cx="934.2" cy="805.0" r="8.55"/><circle cx="948.3" cy="808.3" r="8.55"/><circle cx="837.5" cy="815.8" r="8.55"/><circle cx="836.7" cy="830.0" r="8.55"/><circle cx="1022.5" cy="946.7" r="8.55"/><circle cx="698.3" cy="973.3" r="8.55"/><circle cx="851.7" cy="950.8" r="8.55"/><circle cx="868.3" cy="1003.3" r="8.55"/><circle cx="950.0" cy="1005.0" r="8.55"/><circle cx="1170.0" cy="779.2" r="8.55"/><circle cx="1156.7" cy="803.3" r="8.55"/><circle cx="1185.8" cy="808.3" r="8.55"/><circle cx="1054.2" cy="892.5" r="8.55"/><circle cx="1085.8" cy="920.8" r="8.55"/><circle cx="1242.5" cy="931.7" r="8.55"/><circle cx="1280.8" cy="911.7" r="8.55"/><circle cx="1344.2" cy="1003.3" r="8.55"/><circle cx="1323.3" cy="796.7" r="8.55"/><circle cx="1326.7" cy="802.5" r="8.55"/><circle cx="1361.7" cy="775.0" r="8.55"/><circle cx="1373.3" cy="785.0" r="8.55"/><circle cx="1318.3" cy="830.8" r="8.55"/><circle cx="1273.3" cy="868.3" r="8.55"/><circle cx="1301.7" cy="871.7" r="8.55"/><circle cx="1308.3" cy="875.0" r="8.55"/><circle cx="1324.2" cy="874.2" r="8.55"/><circle cx="1341.7" cy="865.8" r="8.55"/><circle cx="1380.0" cy="890.0" r="8.55"/><circle cx="435.0" cy="1090.0" r="8.55"/><circle cx="456.7" cy="1089.2" r="8.55"/><circle cx="553.3" cy="1094.2" r="8.55"/><circle cx="561.7" cy="1101.7" r="8.55"/><circle cx="563.3" cy="1110.0" r="8.55"/><circle cx="1012.5" cy="1146.7" r="8.55"/><circle cx="1030.0" cy="1153.3" r="8.55"/><circle cx="1294.2" cy="1039.2" r="8.55"/><circle cx="1311.7" cy="1045.8" r="8.55"/><circle cx="1320.0" cy="1055.0" r="8.55"/><circle cx="1288.3" cy="1064.2" r="8.55"/><circle cx="1331.7" cy="1067.5" r="8.55"/><circle cx="1275.0" cy="1120.0" r="8.55"/><circle cx="1268.3" cy="1133.3" r="8.55"/><circle cx="1275.0" cy="1165.8" r="8.55"/>
</g>
<g fill="#f1605d">
<circle cx="1011.2" cy="298.3" r="8.55"/><circle cx="1003.0" cy="335.5" r="8.55"/><circle cx="999.2" cy="380.8" r="8.55"/><circle cx="1027.5" cy="388.3" r="8.55"/><circle cx="974.2" cy="392.5" r="8.55"/><circle cx="980.8" cy="398.3" r="8.55"/><circle cx="874.2" cy="405.0" r="8.55"/><circle cx="912.2" cy="411.7" r="8.55"/><circle cx="838.3" cy="419.2" r="8.55"/><circle cx="725.5" cy="417.2" r="8.55"/><circle cx="1005.5" cy="425.0" r="8.55"/><circle cx="710.0" cy="452.2" r="8.55"/><circle cx="725.8" cy="460.8" r="8.55"/><circle cx="810.8" cy="457.5" r="8.55"/><circle cx="921.7" cy="448.3" r="8.55"/><circle cx="898.3" cy="470.8" r="8.55"/><circle cx="999.2" cy="486.7" r="8.55"/><circle cx="1021.7" cy="478.3" r="8.55"/><circle cx="701.0" cy="506.3" r="8.55"/><circle cx="955.0" cy="499.2" r="8.55"/><circle cx="1048.3" cy="363.3" r="8.55"/><circle cx="1075.8" cy="375.8" r="8.55"/><circle cx="1058.3" cy="391.7" r="8.55"/><circle cx="1141.7" cy="364.2" r="8.55"/><circle cx="1141.7" cy="378.3" r="8.55"/><circle cx="1151.7" cy="383.3" r="8.55"/><circle cx="1105.8" cy="399.2" r="8.55"/><circle cx="1128.3" cy="409.2" r="8.55"/><circle cx="1195.0" cy="405.0" r="8.55"/><circle cx="1287.5" cy="415.8" r="8.55"/><circle cx="1073.3" cy="412.5" r="8.55"/><circle cx="1053.3" cy="442.5" r="8.55"/><circle cx="1028.3" cy="476.7" r="8.55"/><circle cx="1042.5" cy="491.7" r="8.55"/><circle cx="1145.0" cy="505.0" r="8.55"/><circle cx="1520.0" cy="583.3" r="8.55"/><circle cx="609.2" cy="504.2" r="8.55"/><circle cx="591.7" cy="520.0" r="8.55"/><circle cx="608.3" cy="528.3" r="8.55"/><circle cx="615.0" cy="540.8" r="8.55"/><circle cx="603.3" cy="561.7" r="8.55"/><circle cx="634.2" cy="562.5" r="8.55"/><circle cx="565.8" cy="586.7" r="8.55"/><circle cx="708.7" cy="510.7" r="8.55"/><circle cx="824.2" cy="648.3" r="8.55"/><circle cx="868.3" cy="645.8" r="8.55"/><circle cx="774.2" cy="663.3" r="8.55"/><circle cx="810.0" cy="672.5" r="8.55"/><circle cx="1021.7" cy="573.3" r="8.55"/><circle cx="1002.5" cy="628.3" r="8.55"/><circle cx="1085.8" cy="529.2" r="8.55"/><circle cx="1051.7" cy="542.5" r="8.55"/><circle cx="1087.5" cy="596.7" r="8.55"/><circle cx="1191.7" cy="724.2" r="8.55"/><circle cx="1236.7" cy="570.8" r="8.55"/><circle cx="1231.7" cy="576.7" r="8.55"/><circle cx="1240.0" cy="717.5" r="8.55"/><circle cx="1355.0" cy="533.3" r="8.55"/><circle cx="1366.7" cy="622.5" r="8.55"/><circle cx="1387.5" cy="776.7" r="8.55"/><circle cx="1396.7" cy="806.7" r="8.55"/><circle cx="1380.0" cy="831.7" r="8.55"/><circle cx="1614.2" cy="679.2" r="8.55"/><circle cx="597.5" cy="1055.8" r="8.55"/><circle cx="555.0" cy="1083.3" r="8.55"/><circle cx="508.3" cy="998.3" r="8.55"/><circle cx="885.0" cy="771.7" r="8.55"/><circle cx="901.7" cy="769.2" r="8.55"/><circle cx="880.0" cy="1006.7" r="8.55"/><circle cx="1267.5" cy="795.0" r="8.55"/><circle cx="1274.2" cy="825.0" r="8.55"/><circle cx="1326.7" cy="782.5" r="8.55"/><circle cx="1268.3" cy="860.8" r="8.55"/><circle cx="547.5" cy="1110.8" r="8.55"/><circle cx="470.8" cy="1114.2" r="8.55"/><circle cx="476.7" cy="1117.5" r="8.55"/><circle cx="944.2" cy="1082.5" r="8.55"/><circle cx="908.3" cy="1090.8" r="8.55"/><circle cx="880.0" cy="1085.0" r="8.55"/><circle cx="1313.3" cy="1045.0" r="8.55"/>
</g>
<g fill="#fd9668">
<circle cx="892.5" cy="275.8" r="8.55"/><circle cx="902.5" cy="280.0" r="8.55"/><circle cx="929.2" cy="273.3" r="8.55"/><circle cx="937.5" cy="275.8" r="8.55"/><circle cx="766.2" cy="424.2" r="8.55"/><circle cx="905.0" cy="467.5" r="8.55"/><circle cx="1103.3" cy="348.3" r="8.55"/><circle cx="1189.2" cy="374.2" r="8.55"/><circle cx="1190.8" cy="413.3" r="8.55"/><circle cx="1327.5" cy="501.7" r="8.55"/><circle cx="1120.0" cy="495.0" r="8.55"/><circle cx="612.5" cy="528.3" r="8.55"/><circle cx="588.3" cy="542.5" r="8.55"/><circle cx="584.2" cy="555.8" r="8.55"/><circle cx="805.8" cy="640.8" r="8.55"/><circle cx="750.8" cy="695.0" r="8.55"/><circle cx="846.7" cy="699.2" r="8.55"/><circle cx="768.3" cy="747.5" r="8.55"/><circle cx="916.7" cy="755.0" r="8.55"/><circle cx="1094.2" cy="591.7" r="8.55"/><circle cx="612.5" cy="888.3" r="8.55"/><circle cx="450.0" cy="1019.2" r="8.55"/><circle cx="870.8" cy="765.8" r="8.55"/><circle cx="923.3" cy="771.7" r="8.55"/><circle cx="861.7" cy="786.7" r="8.55"/><circle cx="1009.2" cy="1121.7" r="8.55"/><circle cx="1047.5" cy="1050.8" r="8.55"/>
</g>
<g fill="#feb47b">
<circle cx="1012.2" cy="382.0" r="8.55"/><circle cx="786.2" cy="410.5" r="8.55"/><circle cx="1044.7" cy="382.5" r="8.55"/><circle cx="881.7" cy="721.7" r="8.55"/><circle cx="1001.7" cy="715.8" r="8.55"/><circle cx="766.7" cy="736.7" r="8.55"/><circle cx="813.3" cy="810.8" r="8.55"/>
</g>
<g fill="#fedd9f">
<circle cx="836.7" cy="764.2" r="8.55"/><circle cx="928.3" cy="775.8" r="8.55"/>
</g>
<g fill="#fcfdbf">
<circle cx="908.8" cy="350.5" r="8.55"/><circle cx="550.0" cy="1044.2" r="8.55"/><circle cx="944.2" cy="791.7" r="8.55"/>
</g>
<!-- axes -->
<g stroke="#000" stroke-width="4.5" fill="none" stroke-linecap="butt">
<path d="M211.1 140.8V1308.8"/>
<path d="M208.9 1306.5H1819.9"/>
<path d="M196.1 440H211.1M196.1 765.8H211.1M196.1 1091.6H211.1"/>
<path d="M597 1306.5V1320.7M1014 1306.5V1320.7M1431 1306.5V1320.7"/>
</g>
<!-- colourbar -->
<rect x="1875.6" y="564.5" width="63.9" height="319" fill="url(#mg)"/>
<g stroke="#fff" stroke-width="1.6">
<path d="M1875.6 577.4h13M1926.5 577.4h13M1875.6 654h13M1926.5 654h13M1875.6 730.6h13M1926.5 730.6h13M1875.6 807.2h13M1926.5 807.2h13M1875.6 883.2h13M1926.5 883.2h13"/>
</g>
</svg>
<div class="t" id="title" style="left:842px;top:41.2px;font-size:70.44px;font-weight:bold;transform:scaleX(1.04);">GATAD2B</div>
<div class="t" id="xl" style="left:896.8px;top:1384.8px;font-size:61.68px;transform:scaleX(1.05);">umap_1</div>
<div class="t" id="yl" style="left:41.8px;top:840px;font-size:62.71px;transform:rotate(-90deg) scaleX(1.01);">umap_2</div>
<div class="t yt" id="y12" style="left:121px;top:414.2px;font-size:52px;transform:scaleX(1.06);">12</div>
<div class="t yt" id="y8" style="left:151.2px;top:740px;font-size:52px;transform:scaleX(1.06);">8</div>
<div class="t yt" id="y4" style="left:150.2px;top:1065.8px;font-size:52px;transform:scaleX(1.06);">4</div>
<div class="t xt" id="x0" style="left:582.6px;top:1326px;font-size:52px;transform:scaleX(1.06);">0</div>
<div class="t xt" id="x4" style="left:998.5px;top:1326px;font-size:52px;transform:scaleX(1.06);">4</div>
<div class="t xt" id="x8" style="left:1415.5px;top:1326px;font-size:52px;transform:scaleX(1.06);">8</div>
<div class="t lg" id="l20" style="left:1969px;top:555px;font-size:49.3px;transform:scaleX(1.14);">2.0</div>
<div class="t lg" id="l15" style="left:1969px;top:631.4px;font-size:49.3px;transform:scaleX(1.14);">1.5</div>
<div class="t lg" id="l10" style="left:1969px;top:708.2px;font-size:49.3px;transform:scaleX(1.14);">1.0</div>
<div class="t lg" id="l05" style="left:1969px;top:784.6px;font-size:49.3px;transform:scaleX(1.14);">0.5</div>
<div class="t lg" id="l00" style="left:1969px;top:861.2px;font-size:49.3px;transform:scaleX(1.14);">0.0</div>
</body></html>
